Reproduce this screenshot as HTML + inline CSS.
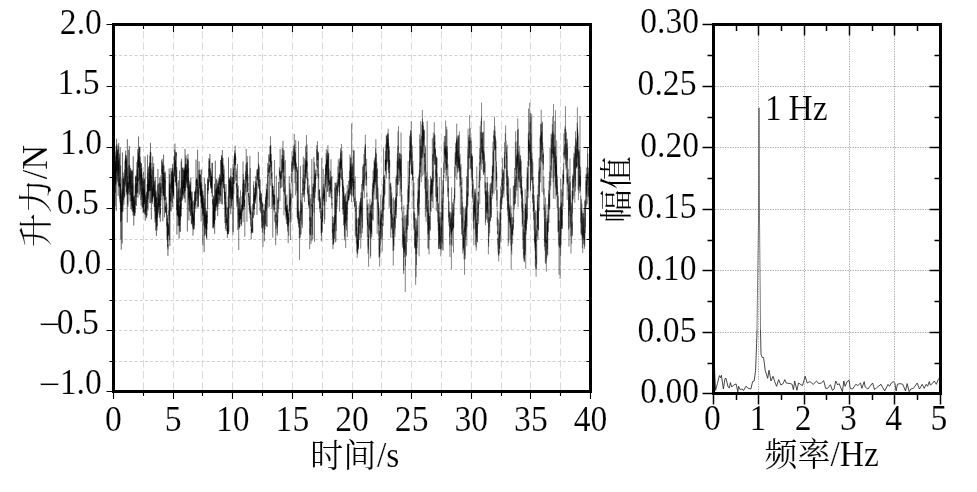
<!DOCTYPE html>
<html><head><meta charset="utf-8"><title>figure</title>
<style>
html,body{margin:0;padding:0;background:#fff;overflow:hidden}
svg{display:block;will-change:transform}
text{font-family:"Liberation Serif","Noto Serif CJK SC",serif;fill:#000;stroke:#fff;stroke-width:0.15px}
</style></head>
<body>
<svg width="977" height="492" viewBox="0 0 977 492">
<rect width="977" height="492" fill="#fff"/>
<path d="M143.5 390V26M173.5 390V26M202.5 390V26M232.5 390V26M262.5 390V26M292.5 390V26M322.5 390V26M352.5 390V26M381.5 390V26M411.5 390V26M441.5 390V26M471.5 390V26M501.5 390V26M530.5 390V26M560.5 390V26" stroke="#dbdbdb" stroke-width="1" stroke-dasharray="7.56 3.78" fill="none"/>
<path d="M113.9 55.5H589M113.9 86.5H589M113.9 116.5H589M113.9 147.5H589M113.9 177.5H589M113.9 208.5H589M113.9 239.5H589M113.9 269.5H589M113.9 300.5H589M113.9 330.5H589M113.9 361.5H589" stroke="#d0d0d0" stroke-width="1" stroke-dasharray="3 2.16" fill="none"/>
<path d="M758.5 26V392M804.5 26V392M849.5 26V392M894.5 26V392M715 332.5H939M715 270.5H939M715 209.5H939M715 147.5H939M715 86.5H939" stroke="#a8a8a8" stroke-width="1" stroke-dasharray="1.25 1.25" fill="none"/>
<polyline points="113.50,182.7 113.57,205.8 113.65,160.2 113.72,163.7 113.80,170.0 113.87,185.3 113.95,195.3 114.02,166.6 114.10,178.9 114.17,174.0 114.25,189.4 114.32,167.6 114.39,190.2 114.47,179.1 114.54,201.3 114.62,188.1 114.69,173.9 114.77,185.3 114.84,185.0 114.92,169.6 114.99,180.8 115.07,151.3 115.14,206.5 115.21,164.3 115.29,164.5 115.36,192.8 115.44,188.6 115.51,161.0 115.59,183.4 115.66,177.0 115.74,161.0 115.81,171.1 115.89,156.1 115.96,184.7 116.03,160.6 116.11,146.2 116.18,158.8 116.26,210.9 116.33,154.1 116.41,161.2 116.48,173.0 116.56,145.4 116.63,138.7 116.70,146.2 116.78,170.8 116.85,144.4 116.93,165.0 117.00,179.6 117.08,162.2 117.15,159.1 117.23,156.2 117.30,149.5 117.38,182.0 117.45,155.3 117.52,151.8 117.60,166.7 117.67,171.1 117.75,171.0 117.82,150.3 117.90,149.7 117.97,169.5 118.05,176.1 118.12,145.7 118.20,195.9 118.27,160.4 118.34,173.1 118.42,185.7 118.49,163.8 118.57,169.7 118.64,147.7 118.72,143.0 118.79,173.9 118.87,160.6 118.94,161.6 119.02,187.2 119.09,186.5 119.16,157.5 119.24,181.9 119.31,178.4 119.39,185.6 119.46,182.6 119.54,186.9 119.61,171.2 119.69,153.8 119.76,186.0 119.84,198.8 119.91,182.7 119.98,202.2 120.06,193.4 120.13,172.4 120.21,147.5 120.28,185.8 120.36,204.7 120.43,184.2 120.51,222.1 120.58,205.1 120.66,165.5 120.73,190.9 120.80,231.9 120.88,239.3 120.95,193.2 121.03,204.9 121.10,212.1 121.18,200.6 121.25,249.7 121.33,228.6 121.40,195.9 121.47,212.9 121.55,216.7 121.62,220.2 121.70,200.8 121.77,212.9 121.85,189.7 121.92,205.4 122.00,178.6 122.07,205.7 122.15,208.2 122.22,243.4 122.29,211.9 122.37,189.3 122.44,152.4 122.52,210.9 122.59,207.5 122.67,190.4 122.74,188.2 122.82,201.4 122.89,191.8 122.97,211.7 123.04,199.4 123.11,181.5 123.19,172.6 123.26,193.9 123.34,194.8 123.41,186.2 123.49,178.2 123.56,185.3 123.64,199.7 123.71,186.2 123.79,178.6 123.86,198.0 123.93,204.8 124.01,182.4 124.08,183.5 124.16,175.8 124.23,185.7 124.31,193.9 124.38,196.0 124.46,197.6 124.53,196.1 124.61,191.0 124.68,189.4 124.75,169.7 124.83,196.4 124.90,181.4 124.98,186.8 125.05,161.2 125.13,174.6 125.20,181.1 125.28,158.4 125.35,173.8 125.42,184.7 125.50,154.8 125.57,163.6 125.65,150.6 125.72,156.9 125.80,160.8 125.87,167.9 125.95,181.8 126.02,160.4 126.10,167.8 126.17,160.6 126.24,168.8 126.32,177.2 126.39,192.1 126.47,155.5 126.54,156.0 126.62,175.5 126.69,168.0 126.77,158.5 126.84,195.0 126.92,182.0 126.99,192.8 127.06,167.6 127.14,180.0 127.21,189.9 127.29,222.5 127.36,139.2 127.44,166.5 127.51,192.1 127.59,194.2 127.66,176.0 127.74,204.2 127.81,189.1 127.88,182.7 127.96,206.8 128.03,198.5 128.11,183.1 128.18,188.5 128.26,189.1 128.33,182.9 128.41,181.6 128.48,193.9 128.56,189.7 128.63,171.4 128.70,166.7 128.78,149.8 128.85,188.3 128.93,165.4 129.00,169.3 129.08,179.3 129.15,172.8 129.23,169.1 129.30,146.0 129.38,192.0 129.45,173.3 129.52,182.5 129.60,183.9 129.67,168.8 129.75,165.2 129.82,195.1 129.90,187.1 129.97,179.7 130.05,201.3 130.12,175.6 130.19,187.2 130.27,184.0 130.34,184.3 130.42,168.1 130.49,189.5 130.57,194.8 130.64,171.2 130.72,197.7 130.79,198.4 130.87,208.7 130.94,169.6 131.01,187.3 131.09,187.3 131.16,189.2 131.24,193.8 131.31,200.9 131.39,200.4 131.46,185.9 131.54,188.9 131.61,170.9 131.69,205.9 131.76,193.9 131.83,210.1 131.91,171.1 131.98,200.8 132.06,177.4 132.13,169.7 132.21,188.0 132.28,171.2 132.36,211.7 132.43,192.4 132.51,208.0 132.58,186.5 132.65,191.1 132.73,201.4 132.80,183.1 132.88,188.0 132.95,202.9 133.03,209.8 133.10,215.5 133.18,205.3 133.25,156.3 133.33,211.4 133.40,199.6 133.47,211.7 133.55,197.2 133.62,202.3 133.70,213.5 133.77,225.6 133.85,215.4 133.92,196.3 134.00,213.1 134.07,197.0 134.15,215.7 134.22,213.6 134.29,204.4 134.37,204.8 134.44,214.1 134.52,214.8 134.59,201.8 134.67,210.5 134.74,195.0 134.82,203.1 134.89,216.1 134.97,199.4 135.04,203.0 135.11,213.1 135.19,184.7 135.26,197.4 135.34,184.3 135.41,176.9 135.49,186.6 135.56,205.0 135.64,194.9 135.71,175.5 135.78,188.3 135.86,194.0 135.93,186.5 136.01,178.2 136.08,180.7 136.16,176.1 136.23,192.6 136.31,186.0 136.38,185.5 136.46,183.1 136.53,206.0 136.60,184.7 136.68,197.1 136.75,165.8 136.83,163.8 136.90,162.1 136.98,171.8 137.05,186.3 137.13,169.7 137.20,185.0 137.28,173.4 137.35,190.4 137.42,193.1 137.50,174.7 137.57,159.7 137.65,179.8 137.72,148.9 137.80,155.7 137.87,192.6 137.95,178.3 138.02,197.7 138.10,177.6 138.17,181.4 138.24,175.3 138.32,152.9 138.39,162.3 138.47,166.5 138.54,136.5 138.62,167.7 138.69,167.8 138.77,156.1 138.84,167.4 138.92,160.9 138.99,180.5 139.06,155.9 139.14,151.5 139.21,161.2 139.29,178.5 139.36,146.7 139.44,165.1 139.51,194.6 139.59,163.1 139.66,147.5 139.74,152.3 139.81,146.8 139.88,147.7 139.96,159.0 140.03,184.4 140.11,175.4 140.18,159.8 140.26,156.8 140.33,176.8 140.41,173.1 140.48,161.9 140.55,189.7 140.63,191.2 140.70,173.1 140.78,168.9 140.85,178.4 140.93,200.0 141.00,175.0 141.08,205.5 141.15,163.3 141.23,179.5 141.30,176.2 141.37,172.7 141.45,186.4 141.52,163.2 141.60,167.7 141.67,177.8 141.75,167.9 141.82,197.3 141.90,174.0 141.97,182.1 142.05,207.6 142.12,187.7 142.19,193.6 142.27,194.6 142.34,188.2 142.42,177.9 142.49,193.9 142.57,189.3 142.64,207.5 142.72,190.2 142.79,178.7 142.87,182.7 142.94,181.6 143.01,197.8 143.09,213.3 143.16,193.0 143.24,207.0 143.31,205.8 143.39,181.5 143.46,212.1 143.54,171.9 143.61,212.0 143.69,187.1 143.76,205.0 143.83,190.1 143.91,204.0 143.98,192.3 144.06,195.2 144.13,199.3 144.21,189.5 144.28,179.5 144.36,204.1 144.43,189.0 144.50,199.3 144.58,201.9 144.65,178.5 144.73,194.1 144.80,212.9 144.88,209.1 144.95,214.4 145.03,211.0 145.10,156.4 145.18,206.5 145.25,220.7 145.32,197.4 145.40,214.8 145.47,207.6 145.55,194.6 145.62,209.7 145.70,211.1 145.77,207.7 145.85,208.3 145.92,208.1 146.00,208.3 146.07,205.3 146.14,214.3 146.22,217.0 146.29,210.3 146.37,209.6 146.44,191.8 146.52,204.3 146.59,200.7 146.67,218.4 146.74,212.9 146.82,196.2 146.89,215.7 146.96,193.4 147.04,201.9 147.11,201.9 147.19,184.2 147.26,197.3 147.34,197.9 147.41,194.6 147.49,185.3 147.56,154.7 147.64,207.8 147.71,184.1 147.78,186.3 147.86,172.9 147.93,187.4 148.01,210.6 148.08,168.8 148.16,195.7 148.23,184.5 148.31,199.2 148.38,196.5 148.46,190.2 148.53,166.5 148.60,176.0 148.68,192.1 148.75,180.2 148.83,189.9 148.90,184.5 148.98,183.7 149.05,178.2 149.13,191.2 149.20,187.1 149.28,181.0 149.35,181.9 149.42,191.1 149.50,162.8 149.57,186.3 149.65,172.3 149.72,177.9 149.80,166.1 149.87,203.0 149.95,155.9 150.02,180.2 150.09,190.9 150.17,175.5 150.24,151.7 150.32,170.6 150.39,203.1 150.47,142.8 150.54,160.8 150.62,190.8 150.69,179.7 150.77,178.9 150.84,152.4 150.91,179.8 150.99,162.8 151.06,185.4 151.14,187.6 151.21,168.6 151.29,173.7 151.36,219.5 151.44,175.1 151.51,175.8 151.59,190.3 151.66,179.8 151.73,181.9 151.81,190.8 151.88,192.5 151.96,201.7 152.03,190.1 152.11,202.0 152.18,188.1 152.26,204.0 152.33,186.7 152.41,188.2 152.48,198.2 152.55,177.1 152.63,164.7 152.70,156.5 152.78,199.4 152.85,170.1 152.93,181.0 153.00,183.5 153.08,196.0 153.15,182.4 153.23,167.0 153.30,176.1 153.37,191.5 153.45,197.3 153.52,187.1 153.60,176.7 153.67,163.3 153.75,195.8 153.82,185.3 153.90,190.5 153.97,195.7 154.05,184.5 154.12,184.2 154.19,206.9 154.27,204.1 154.34,181.3 154.42,188.9 154.49,190.8 154.57,202.8 154.64,206.8 154.72,189.1 154.79,210.5 154.86,211.5 154.94,199.7 155.01,180.4 155.09,222.7 155.16,177.1 155.24,192.2 155.31,219.0 155.39,199.9 155.46,201.6 155.54,193.9 155.61,194.1 155.68,230.7 155.76,217.1 155.83,192.2 155.91,203.0 155.98,200.6 156.06,199.2 156.13,190.6 156.21,221.1 156.28,197.4 156.36,228.3 156.43,236.1 156.50,197.3 156.58,227.3 156.65,204.6 156.73,216.3 156.80,216.7 156.88,213.1 156.95,224.8 157.03,230.4 157.10,205.6 157.18,202.9 157.25,217.2 157.32,225.9 157.40,184.7 157.47,196.8 157.55,203.8 157.62,217.8 157.70,212.1 157.77,202.4 157.85,214.4 157.92,168.9 158.00,201.3 158.07,198.0 158.14,212.7 158.22,211.1 158.29,209.4 158.37,197.7 158.44,206.5 158.52,206.7 158.59,193.3 158.67,197.1 158.74,183.5 158.81,201.2 158.89,209.8 158.96,199.1 159.04,183.4 159.11,204.9 159.19,198.6 159.26,207.4 159.34,195.1 159.41,196.9 159.49,217.8 159.56,202.5 159.63,190.4 159.71,177.4 159.78,191.3 159.86,192.4 159.93,205.4 160.01,206.1 160.08,182.8 160.16,215.0 160.23,204.1 160.31,221.8 160.38,210.3 160.45,208.5 160.53,212.9 160.60,186.9 160.68,205.5 160.75,200.1 160.83,197.2 160.90,200.2 160.98,175.2 161.05,193.1 161.13,183.4 161.20,196.8 161.27,185.7 161.35,181.8 161.42,179.4 161.50,180.3 161.57,170.8 161.65,160.4 161.72,170.6 161.80,171.4 161.87,171.2 161.95,169.4 162.02,174.5 162.09,160.1 162.17,158.8 162.24,174.0 162.32,168.9 162.39,166.0 162.47,168.0 162.54,179.4 162.62,188.9 162.69,162.1 162.77,170.9 162.84,221.3 162.91,174.9 162.99,164.4 163.06,193.1 163.14,177.3 163.21,195.9 163.29,172.7 163.36,193.6 163.44,195.4 163.51,189.8 163.59,154.6 163.66,189.2 163.73,196.1 163.81,178.1 163.88,178.3 163.96,165.6 164.03,196.1 164.11,199.5 164.18,190.2 164.26,179.3 164.33,179.9 164.40,172.8 164.48,217.3 164.55,193.9 164.63,187.5 164.70,178.3 164.78,183.1 164.85,193.5 164.93,200.9 165.00,172.9 165.08,183.2 165.15,171.5 165.22,200.1 165.30,180.5 165.37,211.3 165.45,205.8 165.52,208.5 165.60,207.6 165.67,213.1 165.75,210.9 165.82,207.0 165.90,212.3 165.97,202.0 166.04,212.1 166.12,211.1 166.19,196.9 166.27,206.7 166.34,212.5 166.42,215.2 166.49,215.0 166.57,211.0 166.64,226.2 166.72,207.1 166.79,203.7 166.86,209.1 166.94,227.1 167.01,239.5 167.09,228.8 167.16,222.5 167.24,218.2 167.31,229.9 167.39,236.3 167.46,215.1 167.54,246.7 167.61,222.1 167.68,224.6 167.76,242.5 167.83,232.0 167.91,255.8 167.98,243.9 168.06,249.2 168.13,240.7 168.21,221.8 168.28,232.7 168.36,224.1 168.43,235.9 168.50,226.2 168.58,227.1 168.65,234.8 168.73,234.0 168.80,210.5 168.88,210.4 168.95,221.1 169.03,211.1 169.10,202.0 169.17,168.5 169.25,215.9 169.32,193.1 169.40,183.9 169.47,204.5 169.55,190.1 169.62,240.0 169.70,174.2 169.77,205.4 169.85,246.1 169.92,188.7 169.99,182.6 170.07,192.1 170.14,191.5 170.22,203.1 170.29,209.3 170.37,210.8 170.44,199.5 170.52,193.7 170.59,201.4 170.67,194.6 170.74,184.9 170.81,189.3 170.89,168.1 170.96,168.4 171.04,201.0 171.11,193.9 171.19,200.4 171.26,211.4 171.34,179.4 171.41,194.1 171.49,193.8 171.56,188.6 171.63,173.6 171.71,184.8 171.78,188.9 171.86,171.3 171.93,175.7 172.01,171.0 172.08,171.0 172.16,203.0 172.23,176.7 172.31,187.5 172.38,170.8 172.45,164.0 172.53,192.1 172.60,168.0 172.68,207.2 172.75,169.8 172.83,179.7 172.90,190.6 172.98,193.1 173.05,184.7 173.12,181.6 173.20,196.6 173.27,174.6 173.35,193.8 173.42,178.8 173.50,177.8 173.57,195.7 173.65,172.6 173.72,187.6 173.80,199.2 173.87,179.4 173.94,174.9 174.02,162.9 174.09,176.6 174.17,156.5 174.24,156.6 174.32,159.9 174.39,157.5 174.47,167.2 174.54,176.3 174.62,156.8 174.69,149.7 174.76,167.7 174.84,172.4 174.91,143.6 174.99,162.8 175.06,165.9 175.14,182.4 175.21,167.9 175.29,161.3 175.36,169.4 175.44,159.9 175.51,159.8 175.58,181.9 175.66,173.5 175.73,156.1 175.81,156.8 175.88,151.8 175.96,185.6 176.03,167.3 176.11,152.2 176.18,156.2 176.26,152.9 176.33,181.1 176.40,177.4 176.48,186.5 176.55,170.2 176.63,210.3 176.70,172.1 176.78,167.0 176.85,185.1 176.93,234.5 177.00,202.7 177.08,182.7 177.15,215.4 177.22,205.9 177.30,206.6 177.37,198.4 177.45,206.1 177.52,204.6 177.60,215.7 177.67,212.0 177.75,213.9 177.82,205.5 177.90,214.8 177.97,190.9 178.04,226.0 178.12,200.7 178.19,216.7 178.27,188.4 178.34,211.7 178.42,194.3 178.49,180.4 178.57,218.1 178.64,211.8 178.71,216.7 178.79,210.5 178.86,225.2 178.94,214.1 179.01,214.7 179.09,238.7 179.16,213.8 179.24,226.1 179.31,197.6 179.39,202.1 179.46,170.6 179.53,230.3 179.61,231.6 179.68,207.4 179.76,225.4 179.83,205.1 179.91,216.5 179.98,212.6 180.06,206.5 180.13,208.2 180.21,189.9 180.28,201.6 180.35,220.2 180.43,196.8 180.50,231.9 180.58,203.8 180.65,216.0 180.73,210.6 180.80,187.9 180.88,205.0 180.95,204.2 181.03,208.7 181.10,197.3 181.17,161.4 181.25,216.5 181.32,200.9 181.40,181.1 181.47,201.1 181.55,187.5 181.62,158.6 181.70,182.3 181.77,186.0 181.85,187.8 181.92,189.6 181.99,186.3 182.07,179.1 182.14,168.3 182.22,171.3 182.29,194.1 182.37,188.9 182.44,167.5 182.52,200.4 182.59,187.1 182.67,186.0 182.74,193.8 182.81,192.5 182.89,179.0 182.96,198.5 183.04,190.9 183.11,196.2 183.19,180.1 183.26,194.5 183.34,169.9 183.41,187.6 183.48,182.5 183.56,183.1 183.63,185.9 183.71,188.7 183.78,167.7 183.86,175.5 183.93,182.6 184.01,170.2 184.08,187.6 184.16,175.1 184.23,181.8 184.30,191.4 184.38,167.6 184.45,198.5 184.53,170.7 184.60,192.8 184.68,175.9 184.75,170.1 184.83,177.6 184.90,188.3 184.98,182.9 185.05,148.9 185.12,190.5 185.20,202.6 185.27,175.9 185.35,164.2 185.42,190.9 185.50,173.2 185.57,166.4 185.65,169.4 185.72,179.5 185.80,158.1 185.87,180.4 185.94,161.8 186.02,155.3 186.09,187.5 186.17,165.1 186.24,164.6 186.32,165.7 186.39,175.6 186.47,171.4 186.54,182.2 186.62,167.6 186.69,163.8 186.76,184.6 186.84,178.2 186.91,173.9 186.99,169.4 187.06,168.9 187.14,173.1 187.21,169.4 187.29,183.3 187.36,231.5 187.44,166.3 187.51,159.5 187.58,188.2 187.66,182.0 187.73,173.9 187.81,158.5 187.88,172.9 187.96,153.9 188.03,182.0 188.11,178.5 188.18,179.5 188.25,188.6 188.33,160.6 188.40,180.4 188.48,177.9 188.55,197.9 188.63,168.1 188.70,200.2 188.78,187.1 188.85,220.5 188.93,215.5 189.00,186.2 189.07,204.8 189.15,192.0 189.22,210.7 189.30,180.9 189.37,190.6 189.45,198.5 189.52,193.2 189.60,194.4 189.67,184.2 189.75,195.9 189.82,212.0 189.89,200.3 189.97,185.4 190.04,192.0 190.12,201.1 190.19,190.8 190.27,195.0 190.34,189.9 190.42,210.6 190.49,215.9 190.57,182.2 190.64,197.6 190.71,189.4 190.79,177.6 190.86,199.9 190.94,193.8 191.01,211.9 191.09,214.5 191.16,203.8 191.24,216.0 191.31,223.5 191.39,191.7 191.46,209.5 191.53,196.8 191.61,207.6 191.68,208.6 191.76,198.0 191.83,205.4 191.91,224.6 191.98,202.5 192.06,224.0 192.13,213.4 192.21,191.7 192.28,215.9 192.35,201.0 192.43,220.4 192.50,211.7 192.58,217.5 192.65,214.3 192.73,226.6 192.80,227.4 192.88,215.8 192.95,228.3 193.02,235.6 193.10,213.4 193.17,225.2 193.25,227.7 193.32,229.5 193.40,217.5 193.47,222.1 193.55,217.0 193.62,220.0 193.70,200.4 193.77,221.6 193.84,229.3 193.92,215.3 193.99,215.7 194.07,212.8 194.14,229.1 194.22,202.3 194.29,213.6 194.37,210.8 194.44,225.5 194.52,202.9 194.59,208.4 194.66,191.4 194.74,206.3 194.81,212.2 194.89,197.7 194.96,205.9 195.04,191.9 195.11,204.5 195.19,197.1 195.26,194.0 195.34,191.2 195.41,202.2 195.48,196.8 195.56,189.2 195.63,193.7 195.71,186.6 195.78,190.4 195.86,208.8 195.93,190.5 196.01,159.6 196.08,185.5 196.16,183.0 196.23,180.2 196.30,193.1 196.38,201.0 196.45,180.9 196.53,178.3 196.60,182.5 196.68,179.4 196.75,183.2 196.83,186.7 196.90,183.5 196.97,185.6 197.05,179.6 197.12,193.8 197.20,190.8 197.27,179.6 197.35,188.1 197.42,207.5 197.50,184.1 197.57,149.7 197.65,159.7 197.72,180.5 197.79,181.4 197.87,194.1 197.94,198.7 198.02,190.5 198.09,189.4 198.17,206.2 198.24,187.1 198.32,182.2 198.39,182.7 198.47,197.4 198.54,207.3 198.61,187.1 198.69,192.7 198.76,177.8 198.84,170.5 198.91,169.8 198.99,181.5 199.06,161.3 199.14,168.1 199.21,182.1 199.29,179.7 199.36,174.1 199.43,182.0 199.51,186.2 199.58,188.4 199.66,181.6 199.73,187.5 199.81,174.9 199.88,185.6 199.96,169.8 200.03,172.7 200.11,195.6 200.18,175.3 200.25,195.4 200.33,174.3 200.40,182.9 200.48,188.8 200.55,183.2 200.63,195.2 200.70,185.1 200.78,188.4 200.85,196.7 200.93,189.9 201.00,203.0 201.07,189.5 201.15,221.4 201.22,189.9 201.30,191.6 201.37,182.2 201.45,201.4 201.52,169.4 201.60,198.9 201.67,195.7 201.75,204.0 201.82,184.6 201.89,208.2 201.97,188.8 202.04,206.4 202.12,195.5 202.19,207.4 202.27,191.2 202.34,202.9 202.42,208.9 202.49,198.1 202.56,213.7 202.64,212.6 202.71,198.1 202.79,245.5 202.86,191.2 202.94,216.1 203.01,215.8 203.09,206.1 203.16,203.2 203.24,214.5 203.31,211.3 203.38,203.0 203.46,195.4 203.53,211.4 203.61,218.2 203.68,220.2 203.76,225.4 203.83,206.9 203.91,208.4 203.98,211.5 204.06,202.5 204.13,252.1 204.20,219.4 204.28,220.0 204.35,177.9 204.43,235.8 204.50,212.5 204.58,214.5 204.65,218.3 204.73,198.6 204.80,209.0 204.88,212.7 204.95,227.3 205.02,214.9 205.10,222.2 205.17,218.2 205.25,216.4 205.32,228.2 205.40,212.0 205.47,183.8 205.55,196.0 205.62,215.3 205.70,234.2 205.77,208.0 205.84,208.4 205.92,222.4 205.99,228.7 206.07,213.2 206.14,236.3 206.22,212.8 206.29,229.5 206.37,228.4 206.44,220.4 206.52,237.8 206.59,220.5 206.66,215.6 206.74,239.5 206.81,211.0 206.89,229.7 206.96,211.8 207.04,210.6 207.11,217.0 207.19,215.4 207.26,223.5 207.33,212.4 207.41,210.7 207.48,187.4 207.56,178.3 207.63,208.8 207.71,187.9 207.78,188.2 207.86,194.0 207.93,179.4 208.01,180.3 208.08,190.5 208.15,186.6 208.23,181.5 208.30,190.3 208.38,179.2 208.45,180.5 208.53,184.7 208.60,185.2 208.68,174.4 208.75,168.6 208.83,172.4 208.90,181.7 208.97,158.1 209.05,171.2 209.12,166.7 209.20,160.9 209.27,177.9 209.35,170.6 209.42,173.9 209.50,175.7 209.57,164.2 209.65,159.3 209.72,182.3 209.79,163.6 209.87,154.0 209.94,168.0 210.02,168.2 210.09,171.2 210.17,169.4 210.24,168.2 210.32,172.1 210.39,175.0 210.47,175.1 210.54,170.4 210.61,185.0 210.69,176.1 210.76,179.2 210.84,187.3 210.91,171.5 210.99,189.0 211.06,181.4 211.14,185.7 211.21,173.9 211.29,188.3 211.36,178.5 211.43,176.0 211.51,193.2 211.58,176.5 211.66,187.4 211.73,184.1 211.81,184.1 211.88,177.6 211.96,179.7 212.03,162.9 212.10,187.6 212.18,194.7 212.25,196.7 212.33,188.7 212.40,163.0 212.48,194.9 212.55,204.4 212.63,199.0 212.70,200.7 212.78,204.1 212.85,211.8 212.92,228.0 213.00,212.2 213.07,199.8 213.15,207.7 213.22,228.7 213.30,211.0 213.37,227.1 213.45,195.6 213.52,211.1 213.60,223.2 213.67,197.2 213.74,220.6 213.82,203.0 213.89,214.7 213.97,223.9 214.04,209.8 214.12,226.6 214.19,204.4 214.27,214.1 214.34,223.7 214.42,215.1 214.49,200.8 214.56,183.8 214.64,233.8 214.71,198.3 214.79,207.6 214.86,211.9 214.94,209.8 215.01,210.3 215.09,195.2 215.16,204.7 215.24,220.1 215.31,160.6 215.38,195.2 215.46,210.3 215.53,203.1 215.61,206.6 215.68,197.9 215.76,189.6 215.83,195.3 215.91,201.8 215.98,203.4 216.06,189.8 216.13,197.7 216.20,178.7 216.28,204.2 216.35,191.5 216.43,198.0 216.50,205.1 216.58,188.1 216.65,198.6 216.73,207.3 216.80,202.8 216.87,179.5 216.95,210.6 217.02,189.4 217.10,195.1 217.17,202.8 217.25,189.2 217.32,185.7 217.40,194.6 217.47,195.5 217.55,183.4 217.62,185.6 217.69,216.2 217.77,200.7 217.84,197.5 217.92,198.3 217.99,206.6 218.07,186.5 218.14,192.7 218.22,192.1 218.29,181.0 218.37,203.6 218.44,191.9 218.51,188.7 218.59,194.0 218.66,190.9 218.74,183.3 218.81,189.2 218.89,178.1 218.96,194.8 219.04,187.0 219.11,200.2 219.19,191.1 219.26,194.5 219.33,177.9 219.41,183.0 219.48,185.0 219.56,174.3 219.63,177.7 219.71,183.7 219.78,203.9 219.86,201.4 219.93,190.2 220.01,192.3 220.08,194.4 220.15,194.8 220.23,201.6 220.30,175.4 220.38,195.8 220.45,191.0 220.53,179.7 220.60,196.0 220.68,173.8 220.75,160.1 220.82,180.2 220.90,184.6 220.97,177.9 221.05,187.4 221.12,159.8 221.20,169.3 221.27,184.1 221.35,175.4 221.42,162.9 221.50,155.1 221.57,177.3 221.64,179.1 221.72,203.9 221.79,156.4 221.87,166.9 221.94,158.2 222.02,170.1 222.09,172.9 222.17,175.5 222.24,163.3 222.32,204.4 222.39,150.0 222.46,165.9 222.54,181.9 222.61,178.8 222.69,163.2 222.76,168.3 222.84,181.1 222.91,167.6 222.99,157.9 223.06,184.9 223.14,174.1 223.21,182.1 223.28,173.9 223.36,173.8 223.43,177.0 223.51,180.3 223.58,187.9 223.66,187.0 223.73,185.2 223.81,165.4 223.88,184.3 223.96,188.5 224.03,169.5 224.10,173.0 224.18,192.3 224.25,192.7 224.33,184.0 224.40,187.8 224.48,198.8 224.55,191.6 224.63,195.1 224.70,187.3 224.78,204.4 224.85,191.9 224.92,197.0 225.00,223.1 225.07,195.1 225.15,197.7 225.22,216.7 225.30,191.8 225.37,217.7 225.45,228.9 225.52,217.2 225.59,205.1 225.67,207.2 225.74,213.2 225.82,202.0 225.89,210.0 225.97,184.1 226.04,191.2 226.12,212.2 226.19,231.0 226.27,217.6 226.34,222.8 226.41,213.9 226.49,214.3 226.56,225.3 226.64,225.4 226.71,222.5 226.79,222.0 226.86,207.5 226.94,212.5 227.01,221.3 227.09,223.1 227.16,218.4 227.23,231.4 227.31,228.3 227.38,237.8 227.46,207.5 227.53,227.5 227.61,233.8 227.68,229.7 227.76,221.2 227.83,219.9 227.91,233.4 227.98,225.6 228.05,234.1 228.13,229.1 228.20,196.5 228.28,219.2 228.35,234.2 228.43,221.6 228.50,157.4 228.58,200.8 228.65,218.6 228.73,206.6 228.80,213.2 228.87,231.7 228.95,196.0 229.02,179.1 229.10,184.6 229.17,195.6 229.25,198.1 229.32,192.8 229.40,185.6 229.47,205.0 229.55,207.9 229.62,177.9 229.69,186.6 229.77,179.8 229.84,190.4 229.92,180.2 229.99,196.4 230.07,187.1 230.14,178.1 230.22,181.7 230.29,192.9 230.37,181.5 230.44,193.4 230.51,199.0 230.59,183.1 230.66,175.9 230.74,180.1 230.81,214.3 230.89,168.3 230.96,182.2 231.04,191.8 231.11,208.6 231.18,181.6 231.26,183.5 231.33,187.5 231.41,206.1 231.48,205.0 231.56,185.8 231.63,176.8 231.71,190.8 231.78,196.8 231.86,186.3 231.93,199.1 232.00,197.1 232.08,201.3 232.15,188.6 232.23,197.2 232.30,185.9 232.38,187.2 232.45,198.6 232.53,176.8 232.60,199.4 232.68,186.0 232.75,180.1" fill="none" stroke="#000" stroke-width="0.34" stroke-linejoin="miter" stroke-miterlimit="3"/>
<polyline points="232.75,180.1 232.82,177.6 232.90,235.2 232.97,163.9 233.05,175.4 233.12,172.9 233.20,232.2 233.27,187.9 233.35,182.4 233.42,184.2 233.50,169.1 233.57,183.9 233.64,167.5 233.72,171.3 233.79,185.6 233.87,194.3 233.94,174.3 234.02,168.0 234.09,159.0 234.17,166.3 234.24,155.8 234.32,173.6 234.39,183.5 234.46,160.7 234.54,153.1 234.61,163.5 234.69,162.5 234.76,150.4 234.84,158.9 234.91,154.7 234.99,157.6 235.06,170.2 235.14,145.7 235.21,152.4 235.28,152.5 235.36,165.1 235.43,153.1 235.51,164.8 235.58,158.5 235.66,155.8 235.73,160.1 235.81,158.3 235.88,180.7 235.95,171.1 236.03,176.6 236.10,168.6 236.18,181.4 236.25,175.1 236.33,188.4 236.40,182.5 236.48,186.1 236.55,185.8 236.63,183.5 236.70,189.4 236.77,191.1 236.85,206.8 236.92,183.4 237.00,198.0 237.07,196.1 237.15,201.6 237.22,188.5 237.30,204.2 237.37,194.3 237.45,190.2 237.52,164.1 237.59,192.3 237.67,188.9 237.74,230.0 237.82,194.8 237.89,196.8 237.97,200.8 238.04,202.4 238.12,208.2 238.19,215.2 238.27,204.2 238.34,185.5 238.41,222.6 238.49,208.7 238.56,211.1 238.64,210.7 238.71,250.0 238.79,210.0 238.86,210.7 238.94,199.0 239.01,229.2 239.09,212.4 239.16,218.2 239.23,226.9 239.31,212.6 239.38,227.9 239.46,197.3 239.53,203.9 239.61,220.2 239.68,209.3 239.76,212.9 239.83,202.0 239.91,227.0 239.98,212.6 240.05,214.5 240.13,212.6 240.20,218.3 240.28,211.1 240.35,213.5 240.43,215.1 240.50,190.3 240.58,219.3 240.65,213.3 240.72,219.0 240.80,208.7 240.87,224.0 240.95,213.9 241.02,209.9 241.10,219.1 241.17,211.9 241.25,213.9 241.32,224.5 241.40,212.9 241.47,204.9 241.54,223.9 241.62,226.0 241.69,210.4 241.77,215.7 241.84,196.1 241.92,209.7 241.99,208.0 242.07,212.1 242.14,204.8 242.22,209.9 242.29,211.6 242.36,204.5 242.44,209.0 242.51,192.3 242.59,209.3 242.66,200.1 242.74,203.3 242.81,207.1 242.89,183.6 242.96,209.9 243.04,161.4 243.11,222.2 243.18,190.6 243.26,174.0 243.33,205.3 243.41,199.4 243.48,179.6 243.56,187.7 243.63,200.3 243.71,189.4 243.78,209.8 243.86,189.1 243.93,179.8 244.00,194.1 244.08,191.1 244.15,184.2 244.23,179.3 244.30,206.5 244.38,192.8 244.45,207.0 244.53,200.2 244.60,203.6 244.68,199.8 244.75,231.7 244.82,236.8 244.90,199.0 244.97,189.8 245.05,183.8 245.12,195.5 245.20,191.9 245.27,184.9 245.35,183.2 245.42,188.1 245.49,186.4 245.57,171.4 245.64,185.8 245.72,185.6 245.79,192.4 245.87,176.5 245.94,180.3 246.02,164.9 246.09,178.6 246.17,169.4 246.24,148.8 246.31,162.5 246.39,183.3 246.46,162.7 246.54,173.4 246.61,174.9 246.69,179.0 246.76,175.3 246.84,174.7 246.91,221.8 246.99,168.3 247.06,171.4 247.13,191.9 247.21,172.5 247.28,156.2 247.36,164.2 247.43,176.3 247.51,162.3 247.58,191.8 247.66,177.2 247.73,181.0 247.81,179.9 247.88,174.3 247.95,176.7 248.03,187.3 248.10,184.5 248.18,182.8 248.25,189.6 248.33,188.6 248.40,195.1 248.48,196.8 248.55,192.9 248.63,201.9 248.70,193.2 248.77,198.8 248.85,205.0 248.92,204.0 249.00,204.1 249.07,202.9 249.15,202.0 249.22,207.8 249.30,210.9 249.37,196.1 249.44,200.9 249.52,207.5 249.59,202.8 249.67,208.1 249.74,213.2 249.82,211.8 249.89,155.8 249.97,192.4 250.04,207.7 250.12,218.2 250.19,212.1 250.26,168.0 250.34,214.5 250.41,210.7 250.49,210.1 250.56,215.0 250.64,209.4 250.71,219.5 250.79,218.6 250.86,227.3 250.94,206.2 251.01,223.2 251.08,225.5 251.16,217.8 251.23,239.4 251.31,228.4 251.38,233.7 251.46,228.3 251.53,231.0 251.61,224.7 251.68,229.2 251.76,232.2 251.83,229.9 251.90,229.7 251.98,230.6 252.05,220.3 252.13,211.3 252.20,224.4 252.28,232.8 252.35,212.6 252.43,231.9 252.50,221.3 252.58,221.3 252.65,224.7 252.72,225.3 252.80,233.0 252.87,203.7 252.95,218.0 253.02,216.3 253.10,207.3 253.17,209.6 253.25,204.1 253.32,218.1 253.40,215.9 253.47,185.2 253.54,206.6 253.62,206.9 253.69,202.8 253.77,181.3 253.84,209.7 253.92,199.2 253.99,200.6 254.07,195.4 254.14,198.4 254.22,202.8 254.29,204.9 254.36,215.2 254.44,192.6 254.51,208.7 254.59,201.6 254.66,187.9 254.74,201.5 254.81,194.5 254.89,202.4 254.96,193.4 255.03,197.4 255.11,200.4 255.18,187.7 255.26,197.5 255.33,203.7 255.41,196.2 255.48,181.3 255.56,199.4 255.63,186.1 255.71,185.4 255.78,175.8 255.85,193.0 255.93,183.8 256.00,198.2 256.08,189.3 256.15,185.2 256.23,182.6 256.30,184.9 256.38,184.3 256.45,195.4 256.53,184.9 256.60,179.2 256.67,176.8 256.75,175.4 256.82,172.3 256.90,170.3 256.97,214.9 257.05,180.0 257.12,177.2 257.20,179.9 257.27,168.9 257.35,170.9 257.42,176.7 257.49,175.6 257.57,168.8 257.64,179.7 257.72,180.2 257.79,173.1 257.87,176.7 257.94,171.4 258.02,178.9 258.09,177.0 258.17,185.8 258.24,188.6 258.31,182.8 258.39,151.8 258.46,174.4 258.54,163.2 258.61,184.2 258.69,186.5 258.76,178.6 258.84,186.1 258.91,165.0 258.99,172.6 259.06,182.3 259.13,167.1 259.21,184.7 259.28,186.9 259.36,187.5 259.43,189.5 259.51,183.9 259.58,201.8 259.66,194.3 259.73,179.4 259.80,200.0 259.88,196.3 259.95,210.7 260.03,194.6 260.10,179.5 260.18,189.5 260.25,195.9 260.33,203.8 260.40,197.9 260.48,196.0 260.55,190.7 260.62,212.8 260.70,197.0 260.77,210.5 260.85,194.5 260.92,196.1 261.00,195.7 261.07,193.4 261.15,196.8 261.22,203.5 261.30,197.9 261.37,193.3 261.44,203.5 261.52,202.1 261.59,228.3 261.67,197.1 261.74,208.5 261.82,221.8 261.89,210.5 261.97,214.1 262.04,211.4 262.12,203.0 262.19,206.9 262.26,204.0 262.34,204.5 262.41,232.8 262.49,204.6 262.56,206.6 262.64,202.4 262.71,225.8 262.79,226.5 262.86,215.6 262.94,247.1 263.01,224.4 263.08,215.5 263.16,222.2 263.23,228.4 263.31,216.6 263.38,215.4 263.46,211.9 263.53,209.8 263.61,211.1 263.68,216.6 263.75,219.2 263.83,225.2 263.90,218.1 263.98,209.6 264.05,212.1 264.13,203.9 264.20,217.6 264.28,234.3 264.35,212.1 264.43,210.9 264.50,241.3 264.57,236.4 264.65,215.4 264.72,211.5 264.80,221.9 264.87,221.2 264.95,229.6 265.02,219.9 265.10,219.9 265.17,210.2 265.25,217.7 265.32,223.0 265.39,223.9 265.47,196.8 265.54,225.6 265.62,205.7 265.69,210.5 265.77,200.2 265.84,210.3 265.92,199.6 265.99,202.9 266.07,192.9 266.14,204.1 266.21,210.3 266.29,197.9 266.36,183.6 266.44,226.5 266.51,189.2 266.59,199.2 266.66,193.3 266.74,191.1 266.81,193.9 266.89,188.7 266.96,192.4 267.03,205.7 267.11,194.3 267.18,227.0 267.26,198.9 267.33,195.4 267.41,191.5 267.48,184.8 267.56,186.1 267.63,184.6 267.71,163.0 267.78,199.3 267.85,175.0 267.93,183.1 268.00,182.4 268.08,207.9 268.15,167.7 268.23,171.4 268.30,171.0 268.38,176.4 268.45,171.2 268.52,154.6 268.60,162.7 268.67,165.6 268.75,171.3 268.82,169.6 268.90,170.2 268.97,169.4 269.05,173.0 269.12,165.0 269.20,172.7 269.27,172.4 269.34,164.7 269.42,169.0 269.49,165.9 269.57,206.9 269.64,157.6 269.72,161.2 269.79,160.8 269.87,156.4 269.94,153.9 270.02,161.9 270.09,145.9 270.16,166.7 270.24,151.6 270.31,146.7 270.39,160.8 270.46,136.4 270.54,163.7 270.61,154.2 270.69,163.4 270.76,185.8 270.84,145.1 270.91,159.7 270.98,171.2 271.06,160.5 271.13,167.3 271.21,154.1 271.28,161.0 271.36,175.1 271.43,174.5 271.51,179.0 271.58,174.1 271.66,175.4 271.73,161.0 271.80,175.4 271.88,208.9 271.95,195.9 272.03,171.8 272.10,174.3 272.18,182.8 272.25,183.9 272.33,188.0 272.40,185.7 272.48,196.6 272.55,183.5 272.62,193.5 272.70,190.2 272.77,237.6 272.85,191.6 272.92,186.0 273.00,206.7 273.07,186.0 273.15,192.3 273.22,199.4 273.30,204.6 273.37,189.6 273.44,195.1 273.52,193.8 273.59,199.2 273.67,202.8 273.74,194.2 273.82,205.0 273.89,195.2 273.97,210.1 274.04,206.4 274.11,209.8 274.19,194.9 274.26,212.4 274.34,209.7 274.41,200.5 274.49,203.8 274.56,160.0 274.64,197.1 274.71,205.0 274.79,195.1 274.86,220.9 274.93,216.8 275.01,214.8 275.08,217.8 275.16,222.7 275.23,221.1 275.31,221.6 275.38,211.8 275.46,216.1 275.53,221.1 275.61,225.8 275.68,245.2 275.75,224.0 275.83,221.3 275.90,229.0 275.98,215.6 276.05,213.8 276.13,216.9 276.20,216.1 276.28,216.6 276.35,175.5 276.43,217.2 276.50,225.4 276.57,223.9 276.65,214.3 276.72,212.4 276.80,214.0 276.87,213.7 276.95,217.4 277.02,226.5 277.10,233.4 277.17,228.1 277.25,220.2 277.32,235.6 277.39,215.4 277.47,217.9 277.54,227.1 277.62,212.1 277.69,199.4 277.77,222.1 277.84,212.9 277.92,197.4 277.99,212.8 278.06,205.1 278.14,204.1 278.21,200.4 278.29,203.3 278.36,203.3 278.44,197.7 278.51,182.1 278.59,195.1 278.66,196.8 278.74,209.1 278.81,192.0 278.88,190.9 278.96,184.5 279.03,182.5 279.11,183.2 279.18,179.3 279.26,176.5 279.33,167.4 279.41,167.9 279.48,176.3 279.56,170.1 279.63,173.5 279.70,171.9 279.78,172.7 279.85,175.0 279.93,201.1 280.00,185.6 280.08,172.1 280.15,148.9 280.23,179.0 280.30,172.0 280.38,177.1 280.45,173.9 280.52,179.9 280.60,177.0 280.67,176.4 280.75,188.3 280.82,174.2 280.90,175.8 280.97,187.9 281.05,170.8 281.12,174.1 281.20,172.3 281.27,171.0 281.34,174.5 281.42,177.4 281.49,173.3 281.57,172.6 281.64,159.2 281.72,159.1 281.79,179.1 281.87,177.0 281.94,165.5 282.02,155.0 282.09,169.8 282.16,187.1 282.24,154.4 282.31,147.9 282.39,172.2 282.46,172.9 282.54,167.3 282.61,161.0 282.69,158.7 282.76,168.9 282.84,169.4 282.91,158.8 282.98,140.8 283.06,160.4 283.13,171.9 283.21,149.6 283.28,162.2 283.36,168.6 283.43,162.5 283.51,191.8 283.58,159.1 283.65,155.6 283.73,171.5 283.80,165.9 283.88,161.1 283.95,215.4 284.03,171.0 284.10,150.4 284.18,181.8 284.25,175.9 284.33,184.9 284.40,179.6 284.47,194.8 284.55,193.0 284.62,189.6 284.70,188.6 284.77,189.9 284.85,192.4 284.92,191.0 285.00,185.4 285.07,198.1 285.15,209.7 285.22,206.8 285.29,189.5 285.37,160.0 285.44,204.4 285.52,194.0 285.59,204.0 285.67,211.8 285.74,198.3 285.82,211.2 285.89,209.2 285.97,196.1 286.04,219.8 286.11,205.7 286.19,217.3 286.26,211.0 286.34,207.7 286.41,215.2 286.49,206.0 286.56,224.1 286.64,209.8 286.71,214.1 286.79,209.8 286.86,215.9 286.93,194.6 287.01,216.2 287.08,205.4 287.16,219.4 287.23,212.4 287.31,204.6 287.38,211.5 287.46,223.8 287.53,210.9 287.61,231.4 287.68,214.2 287.75,225.9 287.83,225.7 287.90,217.4 287.98,226.7 288.05,208.9 288.13,223.9 288.20,243.2 288.28,213.9 288.35,224.9 288.42,225.6 288.50,212.6 288.57,220.4 288.65,217.9 288.72,219.5 288.80,235.8 288.87,218.3 288.95,220.7 289.02,222.9 289.10,219.7 289.17,201.4 289.24,176.1 289.32,211.9 289.39,208.7 289.47,205.9 289.54,200.5 289.62,206.2 289.69,210.7 289.77,210.0 289.84,183.2 289.92,192.1 289.99,210.9 290.06,219.0 290.14,189.2 290.21,206.3 290.29,204.3 290.36,196.9 290.44,202.8 290.51,231.5 290.59,240.0 290.66,199.2 290.74,204.1 290.81,193.6 290.88,201.0 290.96,193.5 291.03,222.1 291.11,189.4 291.18,187.9 291.26,179.6 291.33,173.1 291.41,180.3 291.48,182.5 291.56,163.9 291.63,171.8 291.70,168.8 291.78,167.5 291.85,161.2 291.93,162.9 292.00,164.1 292.08,151.1 292.15,172.1 292.23,170.0 292.30,166.6 292.38,163.9 292.45,164.9 292.52,162.6 292.60,163.7 292.67,165.8 292.75,198.4 292.82,156.5 292.90,157.2 292.97,165.3 293.05,156.3 293.12,156.2 293.19,157.5 293.27,168.5 293.34,164.0 293.42,159.8 293.49,145.9 293.57,160.5 293.64,157.0 293.72,161.3 293.79,157.2 293.87,151.8 293.94,166.1 294.01,170.3 294.09,148.5 294.16,151.9 294.24,155.4 294.31,133.9 294.39,146.7 294.46,166.2 294.54,155.1 294.61,144.3 294.69,159.2 294.76,162.8 294.83,150.0 294.91,157.8 294.98,183.2 295.06,160.9 295.13,165.2 295.21,153.9 295.28,168.3 295.36,152.0 295.43,195.4 295.51,159.2 295.58,169.4 295.65,163.1 295.73,139.9 295.80,155.9 295.88,155.8 295.95,165.4 296.03,165.3 296.10,162.5 296.18,164.6 296.25,172.2 296.33,164.2 296.40,170.3 296.47,166.6 296.55,172.3 296.62,172.6 296.70,183.1 296.77,182.9 296.85,190.2 296.92,190.9 297.00,186.7 297.07,182.1 297.14,217.2 297.22,170.5 297.29,193.3 297.37,167.0 297.44,189.6 297.52,213.8 297.59,201.6 297.67,169.8 297.74,218.9 297.82,200.6 297.89,212.8 297.96,219.4 298.04,208.8 298.11,223.4 298.19,211.7 298.26,218.3 298.34,220.2 298.41,212.3 298.49,141.2 298.56,217.1 298.64,216.9 298.71,221.8 298.78,227.0 298.86,221.7 298.93,214.5 299.01,223.7 299.08,220.0 299.16,227.8 299.23,211.1 299.31,238.4 299.38,225.0 299.46,218.0 299.53,259.8 299.60,236.7 299.68,236.2 299.75,229.8 299.83,227.0 299.90,234.7 299.98,232.9 300.05,221.7 300.13,217.8 300.20,227.0 300.28,226.8 300.35,237.7 300.42,165.9 300.50,215.5 300.57,217.7 300.65,209.5 300.72,199.9 300.80,205.7 300.87,221.0 300.95,211.1 301.02,211.9 301.10,210.3 301.17,234.3 301.24,208.4 301.32,212.0 301.39,202.1 301.47,203.5 301.54,212.6 301.62,214.4 301.69,206.5 301.77,199.2 301.84,193.1 301.92,205.4 301.99,224.6 302.06,206.0 302.14,207.0 302.21,203.5 302.29,227.9 302.36,201.9 302.44,202.1 302.51,178.7 302.59,190.4 302.66,194.7 302.73,192.4 302.81,191.5 302.88,188.2 302.96,191.0 303.03,187.6 303.11,164.6 303.18,168.3 303.26,183.6 303.33,156.7 303.41,181.1 303.48,192.0 303.55,197.3 303.63,190.9 303.70,187.4 303.78,185.1 303.85,181.4 303.93,193.0 304.00,195.2 304.08,174.1 304.15,183.2 304.23,194.3 304.30,188.8 304.37,181.6 304.45,188.0 304.52,191.1 304.60,201.9 304.67,158.3 304.75,181.4 304.82,183.5 304.90,185.9 304.97,189.6 305.05,182.6 305.12,179.0 305.19,169.5 305.27,183.5 305.34,164.6 305.42,172.7 305.49,146.3 305.57,177.2 305.64,167.4 305.72,160.5 305.79,166.9 305.87,176.4 305.94,167.8 306.01,161.1 306.09,173.1 306.16,172.4 306.24,160.2 306.31,167.2 306.39,155.4 306.46,135.2 306.54,172.5 306.61,178.9 306.69,152.2 306.76,169.0 306.83,164.3 306.91,163.8 306.98,173.0 307.06,144.4 307.13,166.0 307.21,161.6 307.28,183.6 307.36,185.6 307.43,194.0 307.50,178.4 307.58,180.4 307.65,175.7 307.73,172.4 307.80,185.8 307.88,192.4 307.95,184.5 308.03,178.7 308.10,196.0 308.18,187.5 308.25,199.0 308.32,202.2 308.40,190.0 308.47,202.1 308.55,205.2 308.62,194.7 308.70,201.6 308.77,203.6 308.85,204.0 308.92,201.1 309.00,208.5 309.07,202.3 309.14,206.2 309.22,200.5 309.29,184.9 309.37,195.6 309.44,220.8 309.52,217.0 309.59,223.9 309.67,249.1 309.74,223.9 309.82,219.2 309.89,194.1 309.96,233.5 310.04,230.5 310.11,228.2 310.19,232.9 310.26,235.2 310.34,230.2 310.41,198.7 310.49,210.9 310.56,225.5 310.64,224.7 310.71,235.3 310.78,217.9 310.86,218.4 310.93,244.2 311.01,217.0 311.08,218.2 311.16,227.1 311.23,220.4 311.31,216.7 311.38,217.0 311.46,205.8 311.53,205.1 311.60,204.1 311.68,206.5 311.75,207.1 311.83,159.0 311.90,241.2 311.98,194.2 312.05,199.9 312.13,201.4 312.20,206.2 312.27,204.5 312.35,211.6 312.42,234.8 312.50,205.0 312.57,216.2 312.65,186.9 312.72,197.4 312.80,228.9 312.87,239.2 312.95,202.1 313.02,201.7 313.09,201.3 313.17,198.0 313.24,183.5 313.32,192.0 313.39,184.1 313.47,194.8 313.54,187.4 313.62,203.2 313.69,191.2 313.77,197.3 313.84,157.1 313.91,169.7 313.99,173.3 314.06,212.8 314.14,185.9 314.21,182.4 314.29,181.0 314.36,174.8 314.44,162.1 314.51,241.9 314.59,174.2 314.66,188.2 314.73,189.5 314.81,176.5 314.88,189.2 314.96,197.7 315.03,198.0 315.11,188.1 315.18,169.4 315.26,178.2 315.33,192.4 315.41,190.8 315.48,174.8 315.55,188.0 315.63,172.8 315.70,179.5 315.78,177.5 315.85,178.7 315.93,172.8 316.00,176.1 316.08,175.8 316.15,170.2 316.23,172.3 316.30,164.1 316.37,164.4 316.45,165.8 316.52,164.3 316.60,163.7 316.67,149.0 316.75,161.3 316.82,164.5 316.90,161.9 316.97,145.1 317.04,160.3 317.12,159.4 317.19,159.6 317.27,156.0 317.34,153.7 317.42,141.2 317.49,168.1 317.57,164.7 317.64,176.5 317.72,152.7 317.79,151.2 317.86,155.4 317.94,159.9 318.01,152.3 318.09,163.4 318.16,165.3 318.24,200.2 318.31,185.1 318.39,182.7 318.46,164.6 318.54,152.7 318.61,178.6 318.68,174.7 318.76,173.7 318.83,187.0 318.91,195.7 318.98,201.9 319.06,196.9 319.13,190.3 319.21,190.5 319.28,195.2 319.36,193.4 319.43,189.9 319.50,201.3 319.58,189.2 319.65,208.8 319.73,197.2 319.80,195.9 319.88,205.6 319.95,212.5 320.03,197.5 320.10,208.2 320.18,198.9 320.25,200.2 320.32,207.1 320.40,208.7 320.47,202.3 320.55,208.0 320.62,218.8 320.70,212.1 320.77,210.5 320.85,214.3 320.92,213.3 321.00,219.4 321.07,220.5 321.14,227.9 321.22,233.0 321.29,215.7 321.37,241.4 321.44,220.3 321.52,235.4 321.59,222.8 321.67,229.4 321.74,158.0 321.81,231.6 321.89,228.0 321.96,212.9 322.04,210.3 322.11,232.8 322.19,214.1 322.26,208.1 322.34,222.1 322.41,197.1 322.49,222.1 322.56,215.9 322.63,209.6 322.71,215.9 322.78,214.2 322.86,186.1 322.93,204.7 323.01,205.7 323.08,192.9 323.16,198.9 323.23,169.0 323.31,199.2 323.38,194.2 323.45,195.8 323.53,195.1 323.60,197.8 323.68,197.1 323.75,184.0 323.83,201.5 323.90,200.4 323.98,198.7 324.05,191.6 324.13,192.4 324.20,187.8 324.27,223.9 324.35,191.6 324.42,197.2 324.50,194.4 324.57,190.3 324.65,205.4 324.72,187.9 324.80,187.9 324.87,219.6 324.95,187.7 325.02,174.4 325.09,187.7 325.17,179.3 325.24,184.2 325.32,187.3 325.39,186.9 325.47,181.6 325.54,167.6 325.62,169.7 325.69,179.4 325.76,164.9 325.84,171.6 325.91,184.4 325.99,164.0 326.06,172.5 326.14,175.9 326.21,153.1 326.29,201.8 326.36,149.1 326.44,171.0 326.51,160.0 326.58,160.0 326.66,161.6 326.73,174.8 326.81,159.5 326.88,159.6 326.96,167.0 327.03,161.9 327.11,155.3 327.18,180.0 327.26,163.3 327.33,191.9 327.40,164.7 327.48,163.6 327.55,150.5 327.63,162.8 327.70,166.5 327.78,159.1 327.85,191.4 327.93,145.2 328.00,173.7 328.08,174.5 328.15,152.7 328.22,168.3 328.30,155.6 328.37,181.2 328.45,168.4 328.52,182.6 328.60,173.4 328.67,186.6 328.75,153.0 328.82,172.5 328.90,182.7 328.97,186.7 329.04,197.0 329.12,168.7 329.19,181.5 329.27,184.7 329.34,179.8 329.42,184.6 329.49,181.0 329.57,181.1 329.64,184.9 329.72,181.2 329.79,197.2 329.86,187.6 329.94,190.6 330.01,186.7 330.09,188.1 330.16,191.2 330.24,188.4 330.31,177.9 330.39,188.8 330.46,193.6 330.53,171.0 330.61,176.0 330.68,189.0 330.76,180.2 330.83,189.1 330.91,184.4 330.98,159.3 331.06,177.4 331.13,183.1 331.21,187.2 331.28,198.6 331.35,185.0 331.43,185.5 331.50,182.6 331.58,177.1 331.65,191.8 331.73,189.6 331.80,207.9 331.88,176.0 331.95,198.0 332.03,196.9 332.10,205.0 332.17,203.3 332.25,204.7 332.32,233.2 332.40,216.8 332.47,216.2 332.55,233.2 332.62,238.6 332.70,228.8 332.77,231.6 332.85,223.1 332.92,249.1 332.99,244.0 333.07,235.5 333.14,229.1 333.22,244.7 333.29,238.7 333.37,244.3 333.44,217.1 333.52,218.9 333.59,243.5 333.67,226.2 333.74,224.2 333.81,234.7 333.89,237.4 333.96,237.0 334.04,234.4 334.11,224.2 334.19,222.5 334.26,226.4 334.34,220.5 334.41,225.4 334.49,239.0 334.56,215.3 334.63,217.2 334.71,231.6 334.78,187.5 334.86,221.8 334.93,223.8 335.01,182.6 335.08,242.4 335.16,236.3 335.23,215.0 335.31,224.0 335.38,224.7 335.45,182.9 335.53,209.9 335.60,221.7 335.68,215.0 335.75,189.5 335.83,192.2 335.90,241.6 335.98,200.7 336.05,204.0 336.12,213.1 336.20,199.5 336.27,231.1 336.35,200.2 336.42,182.5 336.50,190.4 336.57,187.8 336.65,188.8 336.72,185.2 336.80,185.4 336.87,201.9 336.94,195.4 337.02,185.6 337.09,207.2 337.17,195.0 337.24,181.7 337.32,178.7 337.39,195.0 337.47,196.0 337.54,184.3 337.62,186.0 337.69,192.7 337.76,182.0 337.84,181.7 337.91,184.8 337.99,166.5 338.06,173.6 338.14,177.3 338.21,175.1 338.29,159.3 338.36,173.6 338.44,187.5 338.51,178.8 338.58,178.9 338.66,185.2 338.73,178.4 338.81,174.3 338.88,180.6 338.96,183.8 339.03,173.1 339.11,192.1 339.18,172.4 339.26,178.4 339.33,175.7 339.40,196.0 339.48,162.7 339.55,211.7 339.63,180.8 339.70,158.2 339.78,176.3 339.85,173.4 339.93,186.8 340.00,176.7 340.07,165.3 340.15,160.7 340.22,167.8 340.30,163.2 340.37,161.0 340.45,178.2 340.52,170.1 340.60,148.2 340.67,170.7 340.75,153.8 340.82,163.1 340.89,151.7 340.97,168.6 341.04,159.3 341.12,160.8 341.19,167.7 341.27,161.0 341.34,169.6 341.42,144.0 341.49,168.4 341.57,160.2 341.64,168.2 341.71,179.9 341.79,172.7 341.86,171.5 341.94,179.0 342.01,150.6 342.09,170.6 342.16,168.2 342.24,182.4 342.31,185.3 342.39,170.4 342.46,191.5 342.53,178.1 342.61,181.7 342.68,187.8 342.76,184.3 342.83,208.9 342.91,185.7 342.98,214.4 343.06,200.2 343.13,179.5 343.21,197.7 343.28,210.3 343.35,186.1 343.43,201.5 343.50,225.3 343.58,198.2 343.65,191.5 343.73,197.6 343.80,187.9 343.88,204.6 343.95,200.1 344.03,214.7 344.10,206.4 344.17,196.4 344.25,205.9 344.32,206.9 344.40,236.4 344.47,215.6 344.55,240.3 344.62,196.1 344.70,229.2 344.77,211.1 344.85,222.5 344.92,198.7 344.99,224.1 345.07,213.5 345.14,193.2 345.22,213.5 345.29,222.9 345.37,211.1 345.44,194.6 345.52,210.1 345.59,234.3 345.66,248.1 345.74,236.0 345.81,202.1 345.89,215.3 345.96,221.0 346.04,211.3 346.11,205.4 346.19,226.3 346.26,202.6 346.34,218.0 346.41,230.4 346.48,203.6 346.56,202.0 346.63,203.7 346.71,200.9 346.78,220.1 346.86,203.9 346.93,195.2 347.01,191.4 347.08,195.3 347.16,214.3 347.23,198.2 347.30,184.8 347.38,236.9 347.45,218.2 347.53,218.9 347.60,201.0 347.68,199.2 347.75,204.5 347.83,202.9 347.90,202.5 347.98,200.2 348.05,195.3 348.12,195.4 348.20,199.3 348.27,195.9 348.35,201.2 348.42,189.8 348.50,200.0 348.57,180.9 348.65,193.7 348.72,190.5 348.80,198.3 348.87,193.7 348.94,188.2 349.02,188.3 349.09,200.2 349.17,196.0 349.24,184.6 349.32,182.4 349.39,177.9 349.47,170.8 349.54,183.2 349.62,196.7 349.69,180.2 349.76,194.3 349.84,189.1 349.91,154.6 349.99,172.9 350.06,183.3 350.14,183.3 350.21,179.2 350.29,193.3 350.36,167.3 350.43,181.9 350.51,163.5 350.58,188.8 350.66,157.4 350.73,194.8 350.81,157.9 350.88,189.7 350.96,164.7 351.03,185.5 351.11,188.9 351.18,184.2 351.25,177.4 351.33,177.7 351.40,167.1 351.48,172.9 351.55,202.0 351.63,123.4 351.70,195.6 351.78,181.9 351.85,173.2 351.93,190.2 352.00,188.8" fill="none" stroke="#000" stroke-width="0.3" stroke-linejoin="miter" stroke-miterlimit="3"/>
<polyline points="352.00,188.8 352.07,177.2 352.15,180.9 352.22,164.5 352.30,175.4 352.37,173.6 352.45,162.9 352.52,182.5 352.60,178.1 352.67,186.7 352.75,175.8 352.82,169.1 352.89,166.3 352.97,178.5 353.04,185.0 353.12,195.3 353.19,191.8 353.27,178.9 353.34,149.8 353.42,201.7 353.49,200.7 353.57,150.8 353.64,197.2 353.71,181.1 353.79,195.9 353.86,179.0 353.94,179.9 354.01,183.2 354.09,181.4 354.16,189.1 354.24,177.3 354.31,150.6 354.39,183.0 354.46,207.4 354.53,202.0 354.61,198.4 354.68,199.7 354.76,198.4 354.83,205.9 354.91,196.4 354.98,203.5 355.06,202.3 355.13,206.1 355.20,203.3 355.28,235.8 355.35,176.4 355.43,210.6 355.50,211.3 355.58,211.4 355.65,208.7 355.73,213.2 355.80,218.8 355.88,223.7 355.95,237.7 356.02,218.4 356.10,230.9 356.17,228.6 356.25,205.2 356.32,243.8 356.40,227.4 356.47,201.0 356.55,220.7 356.62,219.0 356.70,242.1 356.77,251.8 356.84,227.1 356.92,236.4 356.99,219.6 357.07,234.2 357.14,235.9 357.22,257.9 357.29,242.3 357.37,239.1 357.44,254.2 357.52,240.8 357.59,250.1 357.66,233.8 357.74,253.0 357.81,253.4 357.89,235.5 357.96,237.0 358.04,247.0 358.11,239.6 358.19,246.0 358.26,217.2 358.34,248.6 358.41,218.0 358.48,249.4 358.56,227.5 358.63,232.5 358.71,236.3 358.78,219.6 358.86,219.6 358.93,228.7 359.01,233.4 359.08,205.7 359.16,211.0 359.23,221.7 359.30,225.0 359.38,218.9 359.45,220.2 359.53,209.6 359.60,240.0 359.68,219.3 359.75,226.2 359.83,206.7 359.90,201.7 359.97,218.2 360.05,211.8 360.12,203.1 360.20,217.8 360.27,233.7 360.35,204.1 360.42,200.6 360.50,214.1 360.57,198.3 360.65,204.8 360.72,248.7 360.79,207.2 360.87,210.1 360.94,192.5 361.02,209.4 361.09,210.8 361.17,197.8 361.24,206.0 361.32,237.6 361.39,206.2 361.47,212.9 361.54,193.6 361.61,183.9 361.69,215.6 361.76,213.7 361.84,221.7 361.91,209.8 361.99,209.6 362.06,202.1 362.14,192.0 362.21,213.1 362.29,233.1 362.36,216.3 362.43,188.2 362.51,166.7 362.58,228.3 362.66,209.2 362.73,191.5 362.81,181.0 362.88,180.0 362.96,185.9 363.03,179.8 363.11,181.5 363.18,188.2 363.25,164.1 363.33,179.3 363.40,189.5 363.48,187.2 363.55,191.3 363.63,176.0 363.70,165.2 363.78,186.4 363.85,163.6 363.93,154.1 364.00,169.4 364.07,183.1 364.15,179.9 364.22,174.7 364.30,198.2 364.37,197.1 364.45,172.7 364.52,171.4 364.60,163.4 364.67,179.5 364.74,150.1 364.82,156.8 364.89,157.5 364.97,171.0 365.04,147.8 365.12,166.3 365.19,145.2 365.27,151.1 365.34,134.8 365.42,165.0 365.49,144.3 365.56,153.5 365.64,165.5 365.71,163.5 365.79,165.1 365.86,175.7 365.94,171.9 366.01,185.0 366.09,181.6 366.16,170.8 366.24,186.0 366.31,172.2 366.38,180.0 366.46,175.9 366.53,176.8 366.61,158.8 366.68,174.8 366.76,185.9 366.83,197.0 366.91,192.7 366.98,219.6 367.06,206.1 367.13,199.6 367.20,210.0 367.28,208.1 367.35,237.2 367.43,204.9 367.50,225.8 367.58,219.0 367.65,224.3 367.73,218.3 367.80,232.6 367.88,240.1 367.95,253.7 368.02,239.2 368.10,246.1 368.17,230.7 368.25,203.5 368.32,246.9 368.40,249.6 368.47,234.6 368.55,266.6 368.62,233.4 368.70,225.9 368.77,227.5 368.84,225.0 368.92,213.2 368.99,221.4 369.07,237.7 369.14,229.1 369.22,221.5 369.29,230.3 369.37,224.2 369.44,226.0 369.51,227.1 369.59,213.4 369.66,223.3 369.74,229.8 369.81,226.0 369.89,218.7 369.96,198.8 370.04,216.6 370.11,205.0 370.19,214.7 370.26,258.5 370.33,210.7 370.41,228.9 370.48,234.2 370.56,232.0 370.63,204.9 370.71,256.1 370.78,228.5 370.86,211.5 370.93,216.2 371.01,239.0 371.08,223.4 371.15,232.3 371.23,223.4 371.30,213.5 371.38,231.5 371.45,221.9 371.53,203.4 371.60,233.8 371.68,217.9 371.75,200.8 371.83,236.8 371.90,214.3 371.97,218.9 372.05,202.7 372.12,208.4 372.20,193.1 372.27,189.3 372.35,197.3 372.42,200.3 372.50,193.0 372.57,192.2 372.65,219.8 372.72,182.9 372.79,190.6 372.87,184.7 372.94,205.2 373.02,171.0 373.09,170.5 373.17,184.4 373.24,220.6 373.32,188.3 373.39,188.3 373.47,180.7 373.54,187.7 373.61,179.4 373.69,192.2 373.76,179.4 373.84,194.5 373.91,178.1 373.99,168.2 374.06,181.7 374.14,160.1 374.21,184.0 374.28,178.5 374.36,176.8 374.43,162.0 374.51,181.6 374.58,162.0 374.66,188.4 374.73,175.6 374.81,165.1 374.88,157.4 374.96,183.8 375.03,199.7 375.10,164.6 375.18,185.2 375.25,158.3 375.33,182.0 375.40,170.8 375.48,160.3 375.55,153.5 375.63,148.1 375.70,180.4 375.78,157.6 375.85,139.1 375.92,166.4 376.00,152.6 376.07,183.6 376.15,164.4 376.22,167.3 376.30,177.2 376.37,153.9 376.45,199.6 376.52,173.5 376.60,172.4 376.67,198.4 376.74,192.3 376.82,189.2 376.89,162.5 376.97,173.0 377.04,169.4 377.12,182.5 377.19,233.9 377.27,184.8 377.34,193.0 377.42,177.2 377.49,176.4 377.56,168.4 377.64,184.4 377.71,184.2 377.79,203.5 377.86,193.5 377.94,207.7 378.01,187.9 378.09,224.0 378.16,202.4 378.24,210.5 378.31,209.3 378.38,202.7 378.46,215.6 378.53,210.7 378.61,226.0 378.68,205.4 378.76,236.1 378.83,216.0 378.91,208.3 378.98,257.3 379.05,257.6 379.13,241.5 379.20,230.6 379.28,249.7 379.35,237.7 379.43,256.3 379.50,245.0 379.58,259.9 379.65,266.6 379.73,249.3 379.80,256.8 379.87,230.1 379.95,244.6 380.02,253.1 380.10,219.8 380.17,229.0 380.25,210.9 380.32,239.0 380.40,217.8 380.47,225.5 380.55,245.4 380.62,221.1 380.69,228.9 380.77,194.7 380.84,210.3 380.92,229.0 380.99,234.6 381.07,216.2 381.14,214.5 381.22,225.0 381.29,222.5 381.37,214.7 381.44,216.7 381.51,209.4 381.59,219.0 381.66,230.5 381.74,239.5 381.81,213.6 381.89,225.1 381.96,225.1 382.04,224.2 382.11,236.7 382.19,228.3 382.26,251.5 382.33,222.9 382.41,227.1 382.48,198.7 382.56,212.0 382.63,217.7 382.71,213.0 382.78,196.5 382.86,220.4 382.93,213.9 383.00,214.0 383.08,184.0 383.15,207.0 383.23,226.2 383.30,196.6 383.38,176.8 383.45,211.1 383.53,148.3 383.60,198.5 383.68,186.1 383.75,200.3 383.82,195.6 383.90,203.7 383.97,200.2 384.05,209.8 384.12,174.9 384.20,196.9 384.27,180.2 384.35,179.4 384.42,195.5 384.50,180.0 384.57,180.4 384.64,183.6 384.72,175.9 384.79,175.3 384.87,187.1 384.94,189.5 385.02,194.4 385.09,174.3 385.17,161.0 385.24,159.6 385.32,170.8 385.39,151.1 385.46,171.2 385.54,160.1 385.61,169.0 385.69,159.3 385.76,170.4 385.84,165.3 385.91,144.6 385.99,174.4 386.06,160.0 386.14,164.1 386.21,146.1 386.28,135.4 386.36,158.4 386.43,178.6 386.51,136.3 386.58,140.2 386.66,162.2 386.73,146.0 386.81,142.8 386.88,164.7 386.96,136.0 387.03,134.6 387.10,136.1 387.18,149.1 387.25,145.3 387.33,144.5 387.40,133.1 387.48,148.4 387.55,140.9 387.63,135.2 387.70,162.0 387.77,141.1 387.85,139.0 387.92,146.9 388.00,138.8 388.07,161.2 388.15,128.7 388.22,170.0 388.30,156.7 388.37,133.6 388.45,135.9 388.52,153.7 388.59,172.9 388.67,142.9 388.74,154.3 388.82,149.6 388.89,149.8 388.97,168.7 389.04,150.6 389.12,208.0 389.19,146.3 389.27,179.2 389.34,170.9 389.41,172.8 389.49,159.9 389.56,161.4 389.64,167.2 389.71,159.8 389.79,163.4 389.86,177.3 389.94,198.2 390.01,204.1 390.09,205.9 390.16,184.1 390.23,187.7 390.31,189.6 390.38,182.8 390.46,192.4 390.53,213.9 390.61,208.7 390.68,237.6 390.76,183.4 390.83,188.1 390.91,213.2 390.98,203.4 391.05,197.4 391.13,186.8 391.20,218.3 391.28,204.6 391.35,195.8 391.43,227.4 391.50,227.1 391.58,212.5 391.65,229.5 391.73,192.5 391.80,206.7 391.87,214.9 391.95,228.1 392.02,198.8 392.10,213.4 392.17,226.3 392.25,226.3 392.32,237.9 392.40,224.7 392.47,215.0 392.55,214.4 392.62,219.7 392.69,218.0 392.77,233.9 392.84,233.8 392.92,217.6 392.99,226.9 393.07,251.0 393.14,222.9 393.22,227.6 393.29,265.7 393.36,236.3 393.44,242.7 393.51,232.9 393.59,197.3 393.66,234.5 393.74,250.3 393.81,230.7 393.89,246.1 393.96,229.5 394.04,233.7 394.11,219.1 394.18,226.6 394.26,215.2 394.33,200.7 394.41,228.1 394.48,230.8 394.56,216.0 394.63,220.5 394.71,216.9 394.78,223.6 394.86,210.4 394.93,214.5 395.00,237.0 395.08,216.0 395.15,209.2 395.23,199.6 395.30,217.3 395.38,228.5 395.45,197.6 395.53,215.1 395.60,206.7 395.68,201.9 395.75,198.0 395.82,204.5 395.90,215.0 395.97,178.7 396.05,210.4 396.12,210.9 396.20,176.7 396.27,186.8 396.35,218.3 396.42,203.2 396.50,193.2 396.57,196.6 396.64,206.9 396.72,176.4 396.79,174.8 396.87,178.5 396.94,183.4 397.02,175.2 397.09,160.9 397.17,185.1 397.24,176.1 397.31,176.9 397.39,153.4 397.46,165.4 397.54,196.2 397.61,172.0 397.69,145.8 397.76,185.1 397.84,160.5 397.91,167.7 397.99,131.5 398.06,160.1 398.13,168.5 398.21,184.7 398.28,160.1 398.36,148.4 398.43,149.6 398.51,126.1 398.58,140.6 398.66,160.2 398.73,169.4 398.81,157.7 398.88,166.3 398.95,166.6 399.03,167.8 399.10,162.9 399.18,167.9 399.25,181.3 399.33,158.6 399.40,170.2 399.48,152.8 399.55,160.2 399.63,159.8 399.70,164.7 399.77,153.3 399.85,170.5 399.92,177.7 400.00,159.4 400.07,196.1 400.15,176.1 400.22,166.0 400.30,173.0 400.37,156.1 400.45,153.9 400.52,168.1 400.59,175.9 400.67,161.2 400.74,189.0 400.82,179.2 400.89,158.9 400.97,171.2 401.04,132.5 401.12,182.9 401.19,202.0 401.27,177.2 401.34,172.8 401.41,191.7 401.49,154.5 401.56,173.4 401.64,209.2 401.71,207.0 401.79,211.5 401.86,194.8 401.94,195.1 402.01,198.6 402.09,220.3 402.16,217.7 402.23,227.1 402.31,231.4 402.38,247.5 402.46,235.9 402.53,225.7 402.61,219.3 402.68,211.5 402.76,227.8 402.83,244.5 402.90,231.0 402.98,219.3 403.05,236.6 403.13,234.0 403.20,238.6 403.28,241.7 403.35,236.6 403.43,249.3 403.50,227.1 403.58,274.1 403.65,234.3 403.72,270.4 403.80,205.5 403.87,220.3 403.95,248.9 404.02,245.5 404.10,253.0 404.17,242.2 404.25,237.8 404.32,215.8 404.40,257.6 404.47,230.8 404.54,250.6 404.62,242.2 404.69,236.5 404.77,240.6 404.84,242.3 404.92,251.7 404.99,247.8 405.07,246.5 405.14,235.9 405.22,282.2 405.29,291.9 405.36,277.3 405.44,258.5 405.51,265.8 405.59,235.6 405.66,223.9 405.74,215.0 405.81,257.3 405.89,243.1 405.96,254.8 406.04,237.1 406.11,227.3 406.18,233.2 406.26,218.3 406.33,238.1 406.41,255.7 406.48,254.2 406.56,233.8 406.63,223.8 406.71,214.7 406.78,229.9 406.86,222.7 406.93,219.9 407.00,209.7 407.08,220.7 407.15,242.2 407.23,204.5 407.30,210.1 407.38,204.3 407.45,225.1 407.53,210.6 407.60,227.5 407.67,229.5 407.75,209.9 407.82,210.9 407.90,192.4 407.97,188.9 408.05,203.2 408.12,161.1 408.20,206.4 408.27,190.7 408.35,225.9 408.42,194.4 408.49,197.5 408.57,194.8 408.64,184.8 408.72,209.2 408.79,186.4 408.87,194.3 408.94,182.6 409.02,177.7 409.09,188.2 409.17,181.7 409.24,201.9 409.31,168.1 409.39,179.1 409.46,160.1 409.54,183.4 409.61,135.8 409.69,175.7 409.76,151.1 409.84,166.4 409.91,154.4 409.99,161.9 410.06,150.1 410.13,155.9 410.21,141.3 410.28,146.5 410.36,137.1 410.43,133.8 410.51,157.8 410.58,130.3 410.66,148.4 410.73,164.4 410.81,143.5 410.88,150.5 410.95,130.6 411.03,159.6 411.10,148.2 411.18,146.4 411.25,121.1 411.33,144.8 411.40,174.1 411.48,138.1 411.55,136.7 411.62,155.6 411.70,173.5 411.77,156.1 411.85,157.3 411.92,152.6 412.00,164.3 412.07,174.7 412.15,164.4 412.22,173.4 412.30,145.5 412.37,172.4 412.44,180.3 412.52,167.3 412.59,180.1 412.67,172.6 412.74,170.4 412.82,175.5 412.89,174.6 412.97,160.8 413.04,171.6 413.12,208.9 413.19,186.1 413.26,176.8 413.34,195.0 413.41,190.9 413.49,195.8 413.56,193.8 413.64,205.2 413.71,208.7 413.79,220.3 413.86,211.1 413.94,228.3 414.01,182.7 414.08,225.4 414.16,230.2 414.23,212.7 414.31,233.7 414.38,233.8 414.46,237.4 414.53,245.1 414.61,248.0 414.68,246.2 414.76,213.6 414.83,245.8 414.90,243.5 414.98,243.9 415.05,231.7 415.13,218.2 415.20,249.1 415.28,233.8 415.35,237.4 415.43,247.5 415.50,230.0 415.58,255.8 415.65,284.9 415.72,241.3 415.80,254.2 415.87,226.7 415.95,234.8 416.02,217.9 416.10,277.2 416.17,250.8 416.25,250.5 416.32,238.5 416.40,230.7 416.47,265.1 416.54,244.2 416.62,245.1 416.69,220.4 416.77,242.3 416.84,254.0 416.92,240.9 416.99,248.0 417.07,243.2 417.14,232.3 417.21,235.5 417.29,225.0 417.36,241.7 417.44,198.6 417.51,207.5 417.59,202.5 417.66,230.3 417.74,237.5 417.81,221.8 417.89,216.1 417.96,185.6 418.03,178.4 418.11,212.1 418.18,192.6 418.26,191.4 418.33,203.1 418.41,189.7 418.48,198.4 418.56,215.9 418.63,213.0 418.71,202.6 418.78,176.6 418.85,212.7 418.93,214.5 419.00,190.4 419.08,256.3 419.15,174.4 419.23,197.2 419.30,183.3 419.38,169.8 419.45,203.5 419.53,197.6 419.60,134.3 419.67,186.2 419.75,184.3 419.82,174.7 419.90,166.9 419.97,162.3 420.05,173.6 420.12,176.8 420.20,172.5 420.27,166.9 420.35,139.1 420.42,165.5 420.49,146.0 420.57,173.0 420.64,156.6 420.72,121.2 420.79,145.5 420.87,154.2 420.94,165.7 421.02,162.5 421.09,157.0 421.17,148.8 421.24,153.3 421.31,182.1 421.39,155.7 421.46,140.9 421.54,136.0 421.61,158.3 421.69,145.8 421.76,158.4 421.84,145.4 421.91,124.7 421.98,136.8 422.06,140.3 422.13,142.2 422.21,162.4 422.28,176.4 422.36,110.0 422.43,140.5 422.51,118.9 422.58,152.6 422.66,130.9 422.73,121.7 422.80,157.4 422.88,129.9 422.95,154.5 423.03,125.8 423.10,121.9 423.18,137.9 423.25,131.4 423.33,145.3 423.40,134.8 423.48,125.7 423.55,141.9 423.62,139.3 423.70,133.6 423.77,129.0 423.85,174.9 423.92,137.8 424.00,146.4 424.07,134.7 424.15,130.1 424.22,139.4 424.30,130.7 424.37,157.3 424.44,153.4 424.52,162.1 424.59,153.4 424.67,154.4 424.74,163.4 424.82,188.7 424.89,164.5 424.97,170.6 425.04,161.4 425.12,172.7 425.19,145.4 425.26,170.9 425.34,216.8 425.41,178.3 425.49,193.1 425.56,168.6 425.64,147.8 425.71,181.5 425.79,177.4 425.86,198.8 425.94,208.4 426.01,191.3 426.08,192.2 426.16,221.7 426.23,187.9 426.31,186.8 426.38,184.6 426.46,176.3 426.53,185.7 426.61,204.2 426.68,196.3 426.75,192.4 426.83,211.6 426.90,171.8 426.98,193.3 427.05,206.6 427.13,212.2 427.20,120.8 427.28,198.6 427.35,198.6 427.43,190.6 427.50,200.6 427.57,210.2 427.65,206.2 427.72,225.0 427.80,208.9 427.87,234.6 427.95,209.7 428.02,214.6 428.10,248.1 428.17,179.4 428.25,249.5 428.32,213.2 428.39,230.9 428.47,222.6 428.54,233.6 428.62,200.2 428.69,204.2 428.77,208.5 428.84,219.9 428.92,212.8 428.99,227.2 429.07,254.4 429.14,221.2 429.21,225.0 429.29,227.4 429.36,239.6 429.44,230.3 429.51,216.0 429.59,226.4 429.66,216.4 429.74,221.8 429.81,228.7 429.89,226.0 429.96,231.3 430.03,216.5 430.11,214.8 430.18,185.1 430.26,221.0 430.33,230.1 430.41,191.0 430.48,210.5 430.56,205.7 430.63,175.8 430.71,186.5 430.78,195.1 430.85,179.1 430.93,197.0 431.00,188.8 431.08,211.9 431.15,205.5 431.23,202.1 431.30,179.1 431.38,178.4 431.45,201.0 431.52,180.8 431.60,194.1 431.67,179.6 431.75,193.5 431.82,178.4 431.90,188.5 431.97,188.9 432.05,184.2 432.12,180.6 432.20,186.8 432.27,193.5 432.34,138.2 432.42,179.4 432.49,193.4 432.57,196.9 432.64,201.5 432.72,176.6 432.79,154.3 432.87,186.1 432.94,171.1 433.02,208.1 433.09,154.1 433.16,161.3 433.24,160.9 433.31,132.5 433.39,144.6 433.46,150.4 433.54,167.0 433.61,174.2 433.69,181.8 433.76,176.5 433.84,136.4 433.91,158.5 433.98,151.7 434.06,146.5 434.13,141.5 434.21,154.1 434.28,122.2 434.36,141.9 434.43,146.1 434.51,164.8 434.58,133.5 434.66,151.7 434.73,149.0 434.80,142.2 434.88,144.8 434.95,135.1 435.03,163.8 435.10,149.2 435.18,150.0 435.25,154.9 435.33,149.9 435.40,164.7 435.48,148.3 435.55,171.1 435.62,197.1 435.70,166.8 435.77,154.7 435.85,174.5 435.92,176.7 436.00,174.5 436.07,169.6 436.15,175.5 436.22,169.0 436.29,211.1 436.37,156.3 436.44,166.3 436.52,182.2 436.59,157.8 436.67,168.3 436.74,157.7 436.82,201.0 436.89,157.8 436.97,177.0 437.04,201.8 437.11,173.1 437.19,186.9 437.26,197.2 437.34,193.1 437.41,212.7 437.49,187.6 437.56,199.1 437.64,202.5 437.71,186.7 437.79,203.7 437.86,222.1 437.93,220.7 438.01,213.6 438.08,203.4 438.16,223.7 438.23,230.8 438.31,211.1 438.38,221.1 438.46,224.6 438.53,203.0 438.61,248.8 438.68,223.4 438.75,248.9 438.83,233.5 438.90,224.5 438.98,219.1 439.05,246.0 439.13,223.2 439.20,224.2 439.28,235.5 439.35,177.1 439.43,233.6 439.50,243.5 439.57,223.7 439.65,249.0 439.72,216.7 439.80,223.0 439.87,242.3 439.95,226.8 440.02,227.5 440.10,211.9 440.17,239.8 440.25,247.0 440.32,248.8 440.39,235.7 440.47,249.6 440.54,235.5 440.62,227.2 440.69,241.0 440.77,241.5 440.84,256.4 440.92,233.8 440.99,226.2 441.06,217.3 441.14,241.2 441.21,236.1 441.29,167.9 441.36,225.9 441.44,234.9 441.51,225.3 441.59,234.3 441.66,248.4 441.74,224.9 441.81,219.9 441.88,219.2 441.96,212.4 442.03,236.9 442.11,250.5 442.18,197.9 442.26,220.3 442.33,201.0 442.41,210.0 442.48,243.6 442.56,204.8 442.63,220.3 442.70,204.6 442.78,192.0 442.85,180.3 442.93,202.8 443.00,191.8 443.08,194.1 443.15,186.4 443.23,250.3 443.30,199.0 443.38,181.3 443.45,175.0 443.52,192.2 443.60,162.5 443.67,167.3 443.75,176.5 443.82,177.7 443.90,177.0 443.97,169.5 444.05,141.7 444.12,150.1 444.20,169.8 444.27,172.9 444.34,169.4 444.42,136.0 444.49,154.6 444.57,148.3 444.64,148.8 444.72,148.8 444.79,153.4 444.87,162.8 444.94,157.7 445.01,149.2 445.09,146.1 445.16,154.6 445.24,155.3 445.31,135.8 445.39,156.4 445.46,149.1 445.54,158.6 445.61,120.5 445.69,170.0 445.76,159.9 445.83,163.8 445.91,146.0 445.98,181.3 446.06,160.8 446.13,149.4 446.21,158.9 446.28,151.5 446.36,147.8 446.43,175.4 446.51,161.6 446.58,167.8 446.65,126.6 446.73,160.0 446.80,152.9 446.88,129.4 446.95,167.7 447.03,160.4 447.10,158.1 447.18,169.7 447.25,151.9 447.33,158.4 447.40,146.2 447.47,170.5 447.55,176.7 447.62,178.7 447.70,184.5 447.77,196.8 447.85,176.6 447.92,163.9 448.00,184.7 448.07,192.2 448.15,188.5 448.22,188.8 448.29,190.1 448.37,176.4 448.44,217.5 448.52,192.8 448.59,188.1 448.67,205.8 448.74,213.9 448.82,222.6 448.89,220.0 448.97,207.7 449.04,201.3 449.11,226.2 449.19,215.2 449.26,215.9 449.34,211.4 449.41,220.5 449.49,213.3 449.56,214.0 449.64,236.7 449.71,222.4 449.79,243.2 449.86,245.2 449.93,232.3 450.01,256.9 450.08,217.1 450.16,211.6 450.23,228.8 450.31,224.0 450.38,227.4 450.46,225.7 450.53,221.6 450.60,219.7 450.68,229.2 450.75,233.5 450.83,231.4 450.90,217.7 450.98,232.0 451.05,212.4 451.13,231.9 451.20,215.2 451.28,244.2 451.35,239.6 451.42,269.2 451.50,227.8 451.57,234.9 451.65,187.3 451.72,232.0 451.80,229.3 451.87,238.2 451.95,213.1 452.02,220.9 452.10,224.8 452.17,246.1 452.24,223.0 452.32,230.9 452.39,215.4 452.47,202.5 452.54,230.0 452.62,218.1 452.69,209.7 452.77,216.4 452.84,220.8 452.92,228.0 452.99,223.0 453.06,228.9 453.14,203.7 453.21,213.0 453.29,227.2 453.36,213.8 453.44,227.6 453.51,252.6 453.59,199.4 453.66,199.2 453.74,227.5 453.81,218.3 453.88,207.0 453.96,212.0 454.03,215.5 454.11,209.8 454.18,204.7 454.26,205.7 454.33,194.8 454.41,196.9 454.48,199.8 454.56,188.2 454.63,203.5 454.70,166.5 454.78,198.3 454.85,177.3 454.93,169.9 455.00,166.5 455.08,165.8 455.15,152.6 455.23,176.7 455.30,163.8 455.37,157.4 455.45,164.9 455.52,164.8 455.60,143.3 455.67,164.5 455.75,161.4 455.82,158.8 455.90,157.9 455.97,153.8 456.05,157.8 456.12,151.5 456.19,154.3 456.27,150.7 456.34,141.3 456.42,165.7 456.49,138.7 456.57,161.8 456.64,149.7 456.72,123.6 456.79,161.1 456.87,179.9 456.94,141.3 457.01,167.7 457.09,168.3 457.16,136.3 457.24,159.2 457.31,139.2 457.39,141.5 457.46,151.9 457.54,153.6 457.61,150.7 457.69,172.9 457.76,156.1 457.83,155.8 457.91,162.0 457.98,150.4 458.06,171.6 458.13,135.0 458.21,140.5 458.28,168.4 458.36,152.4 458.43,137.0 458.51,149.3 458.58,165.3 458.65,165.2 458.73,145.5 458.80,135.4 458.88,168.0 458.95,156.6 459.03,166.6 459.10,162.4 459.18,157.3 459.25,162.7 459.32,171.4 459.40,131.5 459.47,169.2 459.55,171.1 459.62,158.7 459.70,171.7 459.77,177.7 459.85,164.3 459.92,186.8 460.00,159.6 460.07,153.9 460.14,162.3 460.22,179.1 460.29,177.2 460.37,214.5 460.44,178.5 460.52,173.7 460.59,167.2 460.67,174.9 460.74,184.6 460.82,185.4 460.89,177.0 460.96,175.3 461.04,164.2 461.11,178.1 461.19,184.7 461.26,181.8 461.34,192.6 461.41,186.8 461.49,234.3 461.56,206.2 461.64,204.5 461.71,189.2 461.78,198.8 461.86,198.7 461.93,177.9 462.01,229.1 462.08,197.1 462.16,208.3 462.23,223.1 462.31,201.7 462.38,236.0 462.46,235.1 462.53,229.3 462.60,217.9 462.68,230.8 462.75,253.6 462.83,235.1 462.90,234.1 462.98,206.6 463.05,220.4 463.13,234.8 463.20,248.7 463.28,229.8 463.35,250.7 463.42,236.3 463.50,234.9 463.57,247.9 463.65,237.1 463.72,243.9 463.80,247.0 463.87,207.7 463.95,235.5 464.02,245.7 464.10,259.3 464.17,241.2 464.24,237.3 464.32,234.5 464.39,228.0 464.47,274.8 464.54,267.7 464.62,220.7 464.69,229.4 464.77,232.1 464.84,225.6 464.91,255.3 464.99,241.9 465.06,242.1 465.14,209.1 465.21,259.2 465.29,235.8 465.36,214.3 465.44,222.4 465.51,232.3 465.59,206.2 465.66,239.9 465.73,219.1 465.81,225.2 465.88,215.7 465.96,225.7 466.03,236.5 466.11,212.3 466.18,229.9 466.26,208.1 466.33,219.0 466.41,200.4 466.48,218.2 466.55,221.2 466.63,200.6 466.70,176.2 466.78,246.1 466.85,198.3 466.93,191.0 467.00,226.8 467.08,204.0 467.15,178.5 467.23,199.9 467.30,196.1 467.37,168.7 467.45,196.1 467.52,193.5 467.60,207.6 467.67,192.6 467.75,205.5 467.82,158.3 467.90,148.7 467.97,187.3 468.05,128.7 468.12,161.1 468.19,169.4 468.27,156.4 468.34,158.9 468.42,169.1 468.49,196.5 468.57,175.8 468.64,153.9 468.72,155.7 468.79,157.9 468.87,137.2 468.94,157.9 469.01,135.0 469.09,148.7 469.16,141.1 469.24,153.6 469.31,140.5 469.39,148.3 469.46,158.3 469.54,139.0 469.61,115.0 469.68,121.2 469.76,136.7 469.83,151.7 469.91,154.5 469.98,169.3 470.06,155.2 470.13,129.6 470.21,128.1 470.28,137.3 470.36,143.3 470.43,141.0 470.50,143.0 470.58,168.2 470.65,159.5 470.73,137.6 470.80,138.4 470.88,149.5 470.95,156.3 471.03,157.9 471.10,160.4 471.18,165.4 471.25,177.2" fill="none" stroke="#000" stroke-width="0.28" stroke-linejoin="miter" stroke-miterlimit="3"/>
<polyline points="471.25,177.2 471.32,153.5 471.40,162.6 471.47,160.8 471.55,140.5 471.62,153.8 471.70,169.1 471.77,156.1 471.85,180.3 471.92,153.6 472.00,163.9 472.07,170.8 472.14,164.3 472.22,156.6 472.29,180.0 472.37,198.6 472.44,156.1 472.52,181.4 472.59,167.3 472.67,193.4 472.74,183.8 472.82,197.1 472.89,184.9 472.96,196.6 473.04,202.6 473.11,179.5 473.19,194.2 473.26,221.6 473.34,205.3 473.41,221.2 473.49,228.7 473.56,209.4 473.64,208.8 473.71,203.7 473.78,221.7 473.86,245.3 473.93,210.8 474.01,195.2 474.08,220.0 474.16,198.0 474.23,199.8 474.31,209.9 474.38,201.4 474.45,213.1 474.53,209.1 474.60,215.9 474.68,199.4 474.75,189.4 474.83,212.3 474.90,191.8 474.98,229.2 475.05,216.0 475.13,218.1 475.20,188.6 475.27,215.5 475.35,193.1 475.42,234.5 475.50,212.0 475.57,208.7 475.65,217.3 475.72,244.8 475.80,218.9 475.87,213.8 475.95,195.9 476.02,222.2 476.09,247.2 476.17,234.3 476.24,250.5 476.32,240.6 476.39,219.3 476.47,237.1 476.54,230.5 476.62,222.6 476.69,238.3 476.77,166.6 476.84,226.6 476.91,223.0 476.99,233.6 477.06,222.9 477.14,227.6 477.21,241.9 477.29,235.2 477.36,213.0 477.44,215.5 477.51,242.4 477.59,235.5 477.66,213.6 477.73,210.5 477.81,201.2 477.88,221.0 477.96,199.5 478.03,208.9 478.11,215.8 478.18,205.4 478.26,192.0 478.33,196.1 478.41,191.6 478.48,208.4 478.55,202.9 478.63,224.2 478.70,203.7 478.78,200.7 478.85,200.2 478.93,185.6 479.00,187.5 479.08,182.2 479.15,187.7 479.22,175.4 479.30,183.0 479.37,162.3 479.45,175.7 479.52,170.9 479.60,178.4 479.67,188.6 479.75,204.1 479.82,147.9 479.90,159.0 479.97,155.4 480.04,164.7 480.12,165.7 480.19,125.9 480.27,180.7 480.34,154.6 480.42,152.4 480.49,162.6 480.57,162.2 480.64,161.4 480.72,148.0 480.79,148.0 480.86,131.9 480.94,153.1 481.01,134.1 481.09,121.3 481.16,127.0 481.24,149.5 481.31,169.7 481.39,117.7 481.46,125.5 481.54,102.6 481.61,123.3 481.68,143.3 481.76,138.5 481.83,152.5 481.91,138.2 481.98,152.3 482.06,149.6 482.13,132.8 482.21,143.7 482.28,164.0 482.36,132.9 482.43,139.5 482.50,159.2 482.58,155.1 482.65,150.8 482.73,155.0 482.80,151.6 482.88,146.4 482.95,160.1 483.03,131.8 483.10,171.9 483.18,169.0 483.25,135.9 483.32,132.2 483.40,159.8 483.47,163.4 483.55,174.5 483.62,150.5 483.70,162.5 483.77,175.1 483.85,157.7 483.92,152.1 483.99,160.8 484.07,120.7 484.14,156.9 484.22,161.0 484.29,171.7 484.37,165.7 484.44,158.8 484.52,154.4 484.59,162.2 484.67,172.6 484.74,167.4 484.81,163.3 484.89,180.1 484.96,194.1 485.04,161.0 485.11,175.3 485.19,188.2 485.26,182.0 485.34,189.0 485.41,225.3 485.49,193.4 485.56,222.3 485.63,190.3 485.71,195.5 485.78,183.0 485.86,198.8 485.93,190.7 486.01,203.7 486.08,205.8 486.16,218.4 486.23,192.2 486.31,202.1 486.38,211.2 486.45,202.5 486.53,209.7 486.60,213.1 486.68,199.2 486.75,190.5 486.83,207.1 486.90,220.0 486.98,210.5 487.05,182.9 487.13,212.5 487.20,177.1 487.27,206.1 487.35,195.3 487.42,205.3 487.50,222.6 487.57,214.5 487.65,182.3 487.72,208.9 487.80,202.2 487.87,213.9 487.95,213.1 488.02,209.6 488.09,209.7 488.17,191.7 488.24,219.0 488.32,224.6 488.39,254.4 488.47,238.6 488.54,242.9 488.62,217.6 488.69,246.6 488.76,209.3 488.84,215.2 488.91,230.9 488.99,236.7 489.06,222.2 489.14,221.1 489.21,195.2 489.29,227.2 489.36,225.8 489.44,216.9 489.51,218.4 489.58,228.0 489.66,233.0 489.73,231.4 489.81,219.8 489.88,214.1 489.96,189.1 490.03,184.4 490.11,190.9 490.18,205.7 490.26,188.5 490.33,211.1 490.40,221.1 490.48,182.9 490.55,221.2 490.63,213.4 490.70,211.2 490.78,191.0 490.85,213.7 490.93,197.2 491.00,209.8 491.08,218.0 491.15,200.0 491.22,197.5 491.30,212.9 491.37,217.0 491.45,205.3 491.52,183.5 491.60,182.6 491.67,188.4 491.75,183.9 491.82,193.4 491.90,175.9 491.97,191.9 492.04,198.8 492.12,190.2 492.19,176.1 492.27,178.4 492.34,165.9 492.42,195.9 492.49,177.7 492.57,169.2 492.64,183.3 492.72,165.3 492.79,174.1 492.86,192.8 492.94,141.7 493.01,180.8 493.09,151.8 493.16,166.4 493.24,170.7 493.31,168.3 493.39,164.9 493.46,164.4 493.53,149.9 493.61,172.7 493.68,135.3 493.76,138.3 493.83,130.3 493.91,166.2 493.98,194.1 494.06,148.9 494.13,144.2 494.21,136.0 494.28,144.6 494.35,139.6 494.43,135.5 494.50,116.7 494.58,136.8 494.65,150.6 494.73,135.5 494.80,125.9 494.88,149.9 494.95,142.4 495.03,130.9 495.10,149.1 495.17,135.8 495.25,143.2 495.32,149.1 495.40,145.5 495.47,160.7 495.55,160.0 495.62,138.1 495.70,155.2 495.77,157.0 495.85,190.5 495.92,165.4 495.99,140.7 496.07,158.7 496.14,163.0 496.22,178.3 496.29,181.2 496.37,170.9 496.44,161.4 496.52,179.2 496.59,166.7 496.67,187.3 496.74,172.4 496.81,200.3 496.89,189.5 496.96,206.9 497.04,190.2 497.11,194.6 497.19,225.6 497.26,217.2 497.34,222.1 497.41,233.7 497.49,231.1 497.56,234.3 497.63,210.7 497.71,215.7 497.78,240.2 497.86,244.3 497.93,238.5 498.01,249.4 498.08,251.5 498.16,237.7 498.23,243.6 498.30,251.1 498.38,255.0 498.45,219.5 498.53,253.9 498.60,251.8 498.68,261.4 498.75,250.6 498.83,251.0 498.90,255.7 498.98,243.9 499.05,247.9 499.12,243.9 499.20,232.8 499.27,232.5 499.35,248.9 499.42,223.3 499.50,238.4 499.57,253.3 499.65,228.3 499.72,238.6 499.80,230.4 499.87,249.2 499.94,219.6 500.02,212.3 500.09,228.9 500.17,200.2 500.24,225.3 500.32,213.8 500.39,233.6 500.47,234.9 500.54,186.4 500.62,192.3 500.69,193.7 500.76,242.4 500.84,201.0 500.91,197.4 500.99,200.0 501.06,196.3 501.14,209.2 501.21,199.3 501.29,209.5 501.36,202.7 501.44,189.7 501.51,201.9 501.58,197.8 501.66,195.8 501.73,189.7 501.81,178.4 501.88,185.7 501.96,183.3 502.03,204.2 502.11,191.5 502.18,169.1 502.25,197.2 502.33,196.7 502.40,198.6 502.48,158.0 502.55,197.2 502.63,195.7 502.70,173.3 502.78,173.8 502.85,175.0 502.93,174.0 503.00,179.9 503.07,185.3 503.15,188.1 503.22,187.9 503.30,194.1 503.37,171.8 503.45,181.3 503.52,176.8 503.60,169.8 503.67,176.4 503.75,190.7 503.82,183.0 503.89,197.4 503.97,193.9 504.04,169.6 504.12,183.7 504.19,183.7 504.27,180.3 504.34,156.5 504.42,169.1 504.49,142.2 504.57,164.1 504.64,166.9 504.71,154.1 504.79,152.5 504.86,155.5 504.94,168.9 505.01,165.5 505.09,167.9 505.16,155.9 505.24,150.7 505.31,133.5 505.39,133.4 505.46,141.3 505.53,137.5 505.61,125.5 505.68,139.1 505.76,139.5 505.83,153.7 505.91,146.6 505.98,147.2 506.06,140.9 506.13,152.1 506.21,152.0 506.28,178.7 506.35,147.6 506.43,158.6 506.50,152.4 506.58,166.1 506.65,186.1 506.73,161.6 506.80,155.9 506.88,186.5 506.95,195.2 507.02,179.6 507.10,181.4 507.17,200.8 507.25,144.7 507.32,174.0 507.40,201.6 507.47,211.2 507.55,187.7 507.62,170.4 507.70,185.3 507.77,182.7 507.84,208.1 507.92,192.8 507.99,216.0 508.07,175.9 508.14,192.8 508.22,246.2 508.29,221.7 508.37,194.8 508.44,199.0 508.52,207.7 508.59,194.0 508.66,178.2 508.74,198.0 508.81,242.8 508.89,205.9 508.96,220.5 509.04,215.8 509.11,203.9 509.19,212.7 509.26,222.6 509.34,211.7 509.41,222.1 509.48,207.4 509.56,217.3 509.63,210.8 509.71,219.3 509.78,208.1 509.86,219.0 509.93,218.0 510.01,225.0 510.08,217.1 510.16,239.9 510.23,188.4 510.30,228.0 510.38,219.4 510.45,226.6 510.53,227.3 510.60,217.5 510.68,228.8 510.75,228.6 510.83,240.4 510.90,245.5 510.98,239.6 511.05,205.7 511.12,243.5 511.20,269.6 511.27,227.3 511.35,213.5 511.42,250.8 511.50,249.7 511.57,230.7 511.65,228.7 511.72,249.7 511.79,254.4 511.87,244.7 511.94,224.8 512.02,234.0 512.09,217.1 512.17,235.7 512.24,233.8 512.32,225.4 512.39,233.6 512.47,229.0 512.54,241.8 512.61,243.7 512.69,223.8 512.76,230.9 512.84,235.4 512.91,217.3 512.99,216.9 513.06,221.8 513.14,228.4 513.21,206.9 513.29,186.2 513.36,223.3 513.43,230.0 513.51,219.4 513.58,219.7 513.66,222.2 513.73,220.0 513.81,194.9 513.88,193.6 513.96,185.1 514.03,192.5 514.11,205.7 514.18,186.1 514.25,205.0 514.33,200.9 514.40,209.6 514.48,168.1 514.55,182.0 514.63,198.4 514.70,199.1 514.78,190.7 514.85,187.8 514.93,179.3 515.00,187.0 515.07,182.3 515.15,203.4 515.22,191.3 515.30,204.0 515.37,142.3 515.45,163.3 515.52,169.7 515.60,163.5 515.67,131.2 515.75,153.0 515.82,190.6 515.89,175.2 515.97,196.7 516.04,177.2 516.12,180.9 516.19,165.1 516.27,155.6 516.34,173.8 516.42,165.2 516.49,157.7 516.57,164.0 516.64,163.9 516.71,187.4 516.79,163.9 516.86,141.3 516.94,155.1 517.01,190.9 517.09,160.9 517.16,154.3 517.24,168.6 517.31,148.9 517.38,166.1 517.46,160.3 517.53,157.5 517.61,129.8 517.68,163.5 517.76,118.4 517.83,147.8 517.91,162.2 517.98,154.6 518.06,207.2 518.13,153.9 518.20,157.9 518.28,173.2 518.35,128.8 518.43,164.3 518.50,163.8 518.58,175.2 518.65,179.5 518.73,173.8 518.80,179.5 518.88,151.6 518.95,152.2 519.02,177.3 519.10,182.3 519.17,168.2 519.25,187.5 519.32,162.1 519.40,162.2 519.47,169.6 519.55,164.0 519.62,153.0 519.70,145.7 519.77,172.7 519.84,158.8 519.92,171.0 519.99,181.7 520.07,155.1 520.14,163.1 520.22,170.8 520.29,166.2 520.37,176.6 520.44,188.2 520.52,155.7 520.59,167.2 520.66,175.9 520.74,159.4 520.81,166.4 520.89,187.8 520.96,177.5 521.04,193.4 521.11,179.6 521.19,194.7 521.26,161.1 521.34,195.4 521.41,186.3 521.48,188.0 521.56,198.6 521.63,175.7 521.71,198.3 521.78,208.4 521.86,200.6 521.93,211.5 522.01,190.3 522.08,199.1 522.15,187.4 522.23,226.7 522.30,209.6 522.38,223.9 522.45,215.7 522.53,190.9 522.60,214.9 522.68,223.8 522.75,198.9 522.83,212.5 522.90,203.8 522.97,249.0 523.05,224.0 523.12,233.7 523.20,240.1 523.27,229.1 523.35,245.1 523.42,258.5 523.50,243.3 523.57,236.1 523.65,211.1 523.72,242.1 523.79,247.5 523.87,255.4 523.94,238.0 524.02,236.8 524.09,232.2 524.17,262.2 524.24,251.4 524.32,261.3 524.39,232.3 524.47,260.5 524.54,245.0 524.61,220.1 524.69,227.5 524.76,225.8 524.84,225.4 524.91,255.5 524.99,208.5 525.06,254.6 525.14,188.8 525.21,227.0 525.29,250.9 525.36,217.9 525.43,204.0 525.51,229.8 525.58,203.1 525.66,230.8 525.73,268.9 525.81,255.4 525.88,209.0 525.96,228.2 526.03,217.4 526.11,234.4 526.18,230.6 526.25,205.3 526.33,222.2 526.40,221.3 526.48,230.5 526.55,211.8 526.63,196.4 526.70,217.5 526.78,213.1 526.85,224.2 526.92,177.7 527.00,220.9 527.07,207.2 527.15,167.0 527.22,207.5 527.30,219.0 527.37,209.6 527.45,200.7 527.52,172.9 527.60,189.1 527.67,191.9 527.74,168.5 527.82,168.1 527.89,190.1 527.97,161.0 528.04,165.0 528.12,167.1 528.19,198.1 528.27,164.7 528.34,133.9 528.42,165.1 528.49,108.5 528.56,156.0 528.64,166.9 528.71,139.8 528.79,147.4 528.86,139.4 528.94,150.9 529.01,131.5 529.09,153.0 529.16,144.0 529.24,160.0 529.31,154.1 529.38,141.5 529.46,151.5 529.53,148.7 529.61,145.5 529.68,102.8 529.76,134.3 529.83,135.0 529.91,122.5 529.98,143.2 530.06,158.6 530.13,166.1 530.20,151.7 530.28,157.7 530.35,189.3 530.43,113.0 530.50,191.1 530.58,146.3 530.65,144.4 530.73,154.6 530.80,116.8 530.88,152.9 530.95,163.3 531.02,133.6 531.10,174.0 531.17,174.3 531.25,180.5 531.32,166.6 531.40,159.0 531.47,156.6 531.55,180.1 531.62,158.3 531.69,113.8 531.77,173.0 531.84,166.9 531.92,157.8 531.99,152.7 532.07,176.5 532.14,181.3 532.22,183.2 532.29,159.0 532.37,162.9 532.44,201.8 532.51,203.2 532.59,194.0 532.66,199.0 532.74,177.5 532.81,179.6 532.89,162.2 532.96,170.4 533.04,188.2 533.11,177.1 533.19,204.1 533.26,212.0 533.33,196.3 533.41,186.9 533.48,219.9 533.56,190.9 533.63,184.4 533.71,211.0 533.78,204.2 533.86,211.0 533.93,208.0 534.01,200.5 534.08,229.9 534.15,200.4 534.23,195.3 534.30,204.9 534.38,241.5 534.45,241.7 534.53,212.0 534.60,229.3 534.68,239.4 534.75,242.8 534.83,243.7 534.90,235.7 534.97,247.3 535.05,247.6 535.12,228.7 535.20,250.8 535.27,213.0 535.35,266.7 535.42,210.2 535.50,258.9 535.57,236.3 535.64,233.4 535.72,245.6 535.79,237.3 535.87,248.5 535.94,269.5 536.02,244.2 536.09,276.7 536.17,255.4 536.24,268.9 536.32,254.6 536.39,239.2 536.46,241.4 536.54,230.3 536.61,235.7 536.69,235.0 536.76,264.3 536.84,210.8 536.91,236.1 536.99,224.7 537.06,238.2 537.14,234.4 537.21,230.5 537.28,210.4 537.36,194.6 537.43,219.5 537.51,201.3 537.58,229.2 537.66,216.6 537.73,227.3 537.81,204.3 537.88,218.4 537.96,205.3 538.03,194.6 538.10,239.7 538.18,185.6 538.25,206.6 538.33,212.5 538.40,230.1 538.48,208.0 538.55,230.4 538.63,198.5 538.70,199.2 538.78,171.8 538.85,195.6 538.92,164.8 539.00,160.0 539.07,158.1 539.15,186.9 539.22,169.4 539.30,211.0 539.37,188.4 539.45,176.2 539.52,171.3 539.60,196.9 539.67,172.9 539.74,157.6 539.82,170.6 539.89,167.2 539.97,173.4 540.04,144.0 540.12,137.8 540.19,156.1 540.27,158.8 540.34,135.4 540.42,148.8 540.49,161.6 540.56,182.4 540.64,163.7 540.71,124.0 540.79,160.6 540.86,135.5 540.94,143.9 541.01,145.0 541.09,124.3 541.16,142.4 541.23,109.8 541.31,150.3 541.38,152.5 541.46,146.1 541.53,131.9 541.61,145.4 541.68,162.0 541.76,132.2 541.83,142.5 541.91,143.0 541.98,148.0 542.05,192.3 542.13,122.5 542.20,149.4 542.28,132.6 542.35,128.3 542.43,121.6 542.50,146.0 542.58,150.0 542.65,145.0 542.73,142.4 542.80,148.4 542.87,163.3 542.95,154.3 543.02,157.5 543.10,148.9 543.17,164.6 543.25,152.6 543.32,169.8 543.40,154.8 543.47,177.0 543.55,193.2 543.62,194.9 543.69,189.6 543.77,182.4 543.84,176.3 543.92,196.4 543.99,210.1 544.07,207.9 544.14,188.5 544.22,206.5 544.29,217.2 544.37,204.7 544.44,246.8 544.51,218.3 544.59,223.0 544.66,228.1 544.74,242.0 544.81,207.7 544.89,211.0 544.96,250.6 545.04,234.4 545.11,229.5 545.19,210.9 545.26,249.9 545.33,263.0 545.41,242.5 545.48,197.7 545.56,242.1 545.63,240.7 545.71,221.9 545.78,264.1 545.86,250.8 545.93,232.7 546.00,234.1 546.08,261.0 546.15,236.9 546.23,242.6 546.30,240.2 546.38,271.6 546.45,252.3 546.53,252.4 546.60,240.1 546.68,243.0 546.75,218.3 546.82,230.9 546.90,257.8 546.97,232.2 547.05,204.4 547.12,232.5 547.20,221.7 547.27,235.1 547.35,225.1 547.42,254.4 547.50,222.6 547.57,249.0 547.64,214.7 547.72,248.9 547.79,255.5 547.87,221.2 547.94,230.5 548.02,223.9 548.09,218.6 548.17,222.8 548.24,232.1 548.32,216.8 548.39,213.6 548.46,205.3 548.54,190.0 548.61,222.7 548.69,210.5 548.76,198.0 548.84,214.8 548.91,222.8 548.99,219.2 549.06,181.0 549.14,207.1 549.21,194.6 549.28,210.0 549.36,193.5 549.43,206.0 549.51,206.4 549.58,191.5 549.66,191.5 549.73,171.7 549.81,208.7 549.88,179.9 549.96,148.0 550.03,151.9 550.10,189.7 550.18,188.0 550.25,184.2 550.33,172.8 550.40,172.8 550.48,169.6 550.55,165.3 550.63,185.2 550.70,184.9 550.77,185.1 550.85,185.6 550.92,169.0 551.00,159.8 551.07,134.0 551.15,158.1 551.22,163.4 551.30,144.5 551.37,170.2 551.45,155.1 551.52,145.5 551.59,138.1 551.67,144.8 551.74,159.8 551.82,177.9 551.89,149.6 551.97,153.1 552.04,134.8 552.12,143.2 552.19,132.5 552.27,158.2 552.34,124.1 552.41,145.8 552.49,153.8 552.56,150.7 552.64,140.8 552.71,118.4 552.79,116.4 552.86,147.5 552.94,131.0 553.01,134.8 553.09,154.1 553.16,147.7 553.23,182.3 553.31,148.5 553.38,198.7 553.46,150.4 553.53,104.0 553.61,154.1 553.68,156.6 553.76,133.6 553.83,158.0 553.91,148.9 553.98,144.0 554.05,134.7 554.13,147.7 554.20,164.4 554.28,172.1 554.35,176.5 554.43,170.2 554.50,160.1 554.58,162.5 554.65,147.2 554.73,162.7 554.80,121.2 554.87,148.9 554.95,168.2 555.02,151.6 555.10,199.2 555.17,145.9 555.25,158.8 555.32,159.8 555.40,187.1 555.47,110.2 555.54,171.5 555.62,171.4 555.69,156.8 555.77,176.8 555.84,184.5 555.92,166.7 555.99,189.0 556.07,160.6 556.14,175.1 556.22,164.8 556.29,195.0 556.36,164.5 556.44,177.1 556.51,156.2 556.59,196.3 556.66,140.4 556.74,174.1 556.81,173.9 556.89,194.1 556.96,179.0 557.04,178.9 557.11,207.6 557.18,205.1 557.26,201.9 557.33,175.4 557.41,193.8 557.48,185.8 557.56,195.9 557.63,200.1 557.71,200.8 557.78,211.0 557.86,192.4 557.93,207.8 558.00,207.0 558.08,231.4 558.15,211.7 558.23,232.3 558.30,229.7 558.38,196.2 558.45,245.2 558.53,226.0 558.60,214.4 558.68,208.5 558.75,230.4 558.82,220.4 558.90,221.5 558.97,240.1 559.05,274.8 559.12,251.9 559.20,220.9 559.27,228.3 559.35,247.7 559.42,239.9 559.50,238.0 559.57,238.4 559.64,235.1 559.72,207.4 559.79,245.9 559.87,234.6 559.94,246.5 560.02,244.9 560.09,279.0 560.17,241.5 560.24,247.9 560.31,226.6 560.39,230.7 560.46,243.7 560.54,206.8 560.61,256.3 560.69,224.2 560.76,178.6 560.84,235.1 560.91,208.0 560.99,205.7 561.06,218.3 561.13,245.1 561.21,202.6 561.28,218.5 561.36,225.8 561.43,189.3 561.51,226.6 561.58,203.3 561.66,228.7 561.73,209.0 561.81,229.0 561.88,219.8 561.95,225.7 562.03,222.3 562.10,209.9 562.18,215.0 562.25,207.5 562.33,192.1 562.40,208.3 562.48,228.8 562.55,207.0 562.63,199.6 562.70,186.5 562.77,184.3 562.85,173.9 562.92,196.0 563.00,182.6 563.07,206.9 563.15,169.8 563.22,178.2 563.30,174.7 563.37,183.4 563.45,175.1 563.52,181.6 563.59,163.1 563.67,184.4 563.74,152.4 563.82,155.0 563.89,133.5 563.97,157.2 564.04,155.3 564.12,149.3 564.19,149.0 564.27,148.7 564.34,159.4 564.41,157.6 564.49,149.2 564.56,144.4 564.64,154.8 564.71,153.8 564.79,142.1 564.86,128.8 564.94,140.6 565.01,129.7 565.08,126.2 565.16,129.2 565.23,144.9 565.31,145.4 565.38,164.8 565.46,106.1 565.53,137.4 565.61,158.7 565.68,129.1 565.76,129.6 565.83,154.0 565.90,138.7 565.98,169.7 566.05,166.1 566.13,158.5 566.20,154.6 566.28,158.1 566.35,167.6 566.43,132.3 566.50,151.6 566.58,155.2 566.65,144.1 566.72,157.7 566.80,165.6 566.87,168.0 566.95,182.2 567.02,142.7 567.10,173.9 567.17,200.0 567.25,173.4 567.32,184.1 567.40,138.9 567.47,160.5 567.54,148.2 567.62,148.9 567.69,161.8 567.77,163.4 567.84,182.0 567.92,176.9 567.99,185.1 568.07,179.0 568.14,191.5 568.22,168.9 568.29,177.8 568.36,191.4 568.44,229.8 568.51,185.6 568.59,185.0 568.66,199.0 568.74,215.9 568.81,191.5 568.89,189.0 568.96,246.6 569.04,197.1 569.11,228.2 569.18,204.4 569.26,183.4 569.33,204.8 569.41,195.3 569.48,210.3 569.56,206.3 569.63,176.3 569.71,176.5 569.78,210.6 569.85,211.7 569.93,207.0 570.00,158.4 570.08,203.5 570.15,194.7 570.23,214.4 570.30,226.8 570.38,181.7 570.45,214.0 570.53,223.3 570.60,223.0 570.67,223.7 570.75,223.7 570.82,236.6 570.90,202.3 570.97,253.5 571.05,206.1 571.12,223.1 571.20,214.3 571.27,216.6 571.35,203.5 571.42,207.9 571.49,213.4 571.57,225.8 571.64,243.8 571.72,226.5 571.79,223.5 571.87,226.5 571.94,229.2 572.02,190.8 572.09,204.7 572.17,235.1 572.24,221.7 572.31,236.1 572.39,201.3 572.46,178.7 572.54,213.4 572.61,191.0 572.69,200.7 572.76,180.6 572.84,176.0 572.91,187.7 572.99,173.7 573.06,187.9 573.13,190.7 573.21,198.9 573.28,174.8 573.36,181.9 573.43,183.5 573.51,177.9 573.58,179.6 573.66,187.4 573.73,184.8 573.81,157.3 573.88,174.1 573.95,152.7 574.03,196.0 574.10,187.2 574.18,168.1 574.25,159.5 574.33,177.5 574.40,160.7 574.48,156.4 574.55,154.1 574.62,168.7 574.70,167.4 574.77,202.9 574.85,165.1 574.92,161.0 575.00,145.7 575.07,179.1 575.15,180.8 575.22,173.8 575.30,148.5 575.37,191.5 575.44,172.2 575.52,131.3 575.59,142.5 575.67,186.4 575.74,157.4 575.82,137.8 575.89,149.9 575.97,160.1 576.04,167.9 576.12,139.7 576.19,159.0 576.26,149.0 576.34,154.8 576.41,166.3 576.49,142.2 576.56,167.2 576.64,155.3 576.71,168.7 576.79,165.3 576.86,162.8 576.94,167.3 577.01,152.6 577.08,140.1 577.16,132.0 577.23,122.7 577.31,155.6 577.38,107.4 577.46,145.9 577.53,127.4 577.61,165.7 577.68,129.9 577.76,155.9 577.83,133.0 577.90,157.9 577.98,135.8 578.05,151.2 578.13,189.6 578.20,160.7 578.28,152.0 578.35,149.4 578.43,200.2 578.50,166.8 578.58,161.8 578.65,156.2 578.72,151.8 578.80,173.9 578.87,190.6 578.95,151.5 579.02,163.9 579.10,149.8 579.17,169.4 579.25,156.0 579.32,185.6 579.39,164.0 579.47,167.9 579.54,165.0 579.62,193.2 579.69,175.8 579.77,187.1 579.84,180.3 579.92,172.3 579.99,116.1 580.07,183.8 580.14,170.4 580.21,186.8 580.29,175.8 580.36,186.3 580.44,180.8 580.51,191.4 580.59,167.0 580.66,181.7 580.74,222.6 580.81,195.7 580.89,202.8 580.96,233.4 581.03,225.6 581.11,218.2 581.18,218.9 581.26,208.3 581.33,235.8 581.41,205.0 581.48,199.2 581.56,210.3 581.63,224.3 581.71,221.9 581.78,234.1 581.85,211.0 581.93,216.2 582.00,203.5 582.08,235.2 582.15,213.2 582.23,240.3 582.30,236.1 582.38,248.1 582.45,228.5 582.53,236.2 582.60,227.5 582.67,216.1 582.75,253.1 582.82,229.0 582.90,213.0 582.97,232.7 583.05,238.1 583.12,225.7 583.20,223.1 583.27,219.0 583.35,218.0 583.42,237.1 583.49,218.7 583.57,213.1 583.64,239.5 583.72,225.1 583.79,244.0 583.87,228.9 583.94,209.4 584.02,228.2 584.09,244.7 584.16,228.1 584.24,227.5 584.31,217.7 584.39,248.9 584.46,242.1 584.54,230.1 584.61,239.5 584.69,200.7 584.76,246.7 584.84,240.3 584.91,238.9 584.98,232.3 585.06,205.4 585.13,205.7 585.21,199.4 585.28,201.4 585.36,233.1 585.43,201.3 585.51,227.0 585.58,212.9 585.66,205.5 585.73,206.3 585.80,187.4 585.88,207.8 585.95,174.5 586.03,188.3 586.10,180.2 586.18,185.0 586.25,182.6 586.33,194.3 586.40,167.5 586.48,205.4 586.55,180.8 586.62,190.1 586.70,191.9 586.77,183.8 586.85,196.3 586.92,174.4 587.00,174.3 587.07,181.1 587.15,172.9 587.22,194.8 587.30,204.0 587.37,187.8 587.44,183.1 587.52,148.0 587.59,184.9 587.67,166.8 587.74,169.4 587.82,153.6 587.89,179.7 587.97,173.4 588.04,185.0 588.12,194.5 588.19,197.2 588.26,195.4 588.34,167.9 588.41,183.5 588.49,189.9 588.56,188.3 588.64,196.3 588.71,189.8 588.79,190.1 588.86,181.2 588.93,177.7 589.01,210.2 589.08,183.5 589.16,170.5 589.23,200.5 589.31,189.8 589.38,183.5 589.46,160.5 589.53,176.4 589.61,188.2 589.68,176.6 589.75,169.3 589.83,177.3 589.90,158.3 589.98,176.6 590.05,205.2 590.13,192.3 590.20,185.1 590.28,185.0 590.35,174.4 590.43,174.5 590.50,160.4" fill="none" stroke="#000" stroke-width="0.27" stroke-linejoin="miter" stroke-miterlimit="3"/>
<polyline points="714.3,362.5 715.0,380.0 715.6,390.3 717.4,383.6 719.4,375.6 720.5,377.6 721.4,375.3 723.4,389.0 725.0,378.5 726.1,378.5 728.1,387.0 729.4,387.9 730.4,382.6 731.7,387.0 733.5,385.2 736.1,383.9 737.8,391.9 738.6,386.3 740.2,389.7 742.2,389.0 743.5,390.6 745.9,386.3 748.2,388.3 750.9,389.0 752.6,381.6 754.2,381.0 755.6,370.2 756.6,343.4 757.0,330.0" fill="none" stroke-linejoin="round" stroke="#1a1a1a" stroke-width="0.8"/>
<polyline points="757.0,330.0 757.5,290.0 758.5,220.0 758.9,114.0 759.0,107.8 759.1,114.0 759.5,220.0 760.2,290.0 760.5,330.0" fill="none" stroke-linejoin="round" stroke="#222" stroke-width="0.6"/>
<polyline points="760.5,330.0 761.0,354.1 762.3,357.5 763.6,357.5 765.2,370.2 767.7,378.3 769.0,370.2 771.0,381.0 773.0,376.3 775.0,382.3 776.6,386.3 778.7,379.6 780.8,385.0 783.1,383.6 784.8,379.6 786.2,383.0 790.5,383.6 792.1,384.3 793.4,389.7 794.7,381.0 796.9,390.3 798.5,383.0 802.5,385.6 805.2,376.3 807.2,383.0 809.9,381.6 813.2,384.3 816.6,381.0 818.6,383.6 821.3,383.0 823.7,380.7 825.6,388.3 827.7,388.3 830.4,384.7 832.4,390.3 834.1,389.0 835.7,381.0 837.7,385.0 839.1,383.6 842.4,391.7 843.8,381.0 845.1,386.3 847.1,381.6 849.1,380.3 850.2,388.3 852.5,389.0 855.8,384.3 857.9,385.6 860.5,383.0 861.9,388.3 864.2,381.6 865.2,387.0 867.9,389.0 872.6,383.0 874.6,389.7 876.6,387.7 881.0,384.3 882.4,387.0 884.7,391.0 888.0,384.3 889.4,386.3 891.4,383.0 893.4,381.6 895.0,383.6 896.1,391.0 897.4,384.3 900.1,383.6 902.8,384.3 905.5,391.0 907.1,383.6 909.2,391.7 910.8,389.0 913.5,388.3 917.2,383.0 919.5,389.0 922.2,384.3 924.2,388.3 926.2,384.3 927.6,386.3 929.3,381.6 930.3,385.0 932.3,383.6 934.3,381.0 936.3,384.3 938.3,379.3 940.0,377.0" fill="none" stroke-linejoin="round" stroke="#1a1a1a" stroke-width="0.8"/>
<rect x="113.5" y="24.5" width="477" height="367" fill="none" stroke="#000" stroke-width="3"/>
<rect x="713.5" y="24.5" width="227" height="369" fill="none" stroke="#000" stroke-width="3"/>
<path d="M113.5 393v6M143.5 393v3M143.5 26v3M173.5 393v6M173.5 26v6M202.5 393v3M202.5 26v3M232.5 393v6M232.5 26v6M262.5 393v3M262.5 26v3M292.5 393v6M292.5 26v6M322.5 393v3M322.5 26v3M352.5 393v6M352.5 26v6M381.5 393v3M381.5 26v3M411.5 393v6M411.5 26v6M441.5 393v3M441.5 26v3M471.5 393v6M471.5 26v6M501.5 393v3M501.5 26v3M530.5 393v6M530.5 26v6M560.5 393v3M560.5 26v3M590.5 393v6M112 24.5h-5.5M112 55.5h-2.5M589 55.5h-2.5M112 86.5h-5.5M589 86.5h-5.5M112 116.5h-2.5M589 116.5h-2.5M112 147.5h-5.5M589 147.5h-5.5M112 177.5h-2.5M589 177.5h-2.5M112 208.5h-5.5M589 208.5h-5.5M112 239.5h-2.5M589 239.5h-2.5M112 269.5h-5.5M589 269.5h-5.5M112 300.5h-2.5M589 300.5h-2.5M112 330.5h-5.5M589 330.5h-5.5M112 361.5h-2.5M589 361.5h-2.5M112 391.5h-5.5" stroke="#000" stroke-width="1.1" fill="none"/>
<path d="M713.5 395v9.5M736.5 395v5M736.5 26v5M758.5 395v9.5M758.5 26v9.5M781.5 395v5M781.5 26v5M804.5 395v9.5M804.5 26v9.5M826.5 395v5M826.5 26v5M849.5 395v9.5M849.5 26v9.5M872.5 395v5M872.5 26v5M894.5 395v9.5M894.5 26v9.5M917.5 395v5M917.5 26v5M940.5 395v9.5M712 24.5h-9.5M712 55.5h-4.5M939 55.5h-4.5M712 86.5h-9.5M939 86.5h-9.5M712 117.5h-4.5M939 117.5h-4.5M712 147.5h-9.5M939 147.5h-9.5M712 178.5h-4.5M939 178.5h-4.5M712 209.5h-9.5M939 209.5h-9.5M712 240.5h-4.5M939 240.5h-4.5M712 270.5h-9.5M939 270.5h-9.5M712 301.5h-4.5M939 301.5h-4.5M712 332.5h-9.5M939 332.5h-9.5M712 363.5h-4.5M939 363.5h-4.5M712 393.5h-9.5" stroke="#000" stroke-width="1.5" fill="none"/>
<text transform="translate(101.89 33.9) scale(0.966 1)" font-size="34.8" text-anchor="end" >2.0</text>
<text transform="translate(99.59 93.9) scale(0.966 1)" font-size="34.8" text-anchor="end" >1.5</text>
<text transform="translate(101.99 153.9) scale(0.966 1)" font-size="34.8" text-anchor="end" >1.0</text>
<text transform="translate(98.89 213.9) scale(0.966 1)" font-size="34.8" text-anchor="end" >0.5</text>
<text transform="translate(101.39 273.9) scale(0.966 1)" font-size="34.8" text-anchor="end" >0.0</text>
<text transform="translate(38.8 336.1) scale(1.095 1)" font-size="34.8">−</text>
<text transform="translate(98.89 333.9) scale(0.966 1)" font-size="34.8" text-anchor="end" >0.5</text>
<text transform="translate(38.8 396.1) scale(1.095 1)" font-size="34.8">−</text>
<text transform="translate(101.69 393.9) scale(0.966 1)" font-size="34.8" text-anchor="end" >1.0</text>
<text transform="translate(113.5 430.8) scale(0.966 1)" font-size="34.8" text-anchor="middle" >0</text>
<text transform="translate(173.12 430.8) scale(0.966 1)" font-size="34.8" text-anchor="middle" >5</text>
<text transform="translate(232.75 430.8) scale(0.966 1)" font-size="34.8" text-anchor="middle" >10</text>
<text transform="translate(292.38 430.8) scale(0.966 1)" font-size="34.8" text-anchor="middle" >15</text>
<text transform="translate(352 430.8) scale(0.966 1)" font-size="34.8" text-anchor="middle" >20</text>
<text transform="translate(411.62 430.8) scale(0.966 1)" font-size="34.8" text-anchor="middle" >25</text>
<text transform="translate(471.25 430.8) scale(0.966 1)" font-size="34.8" text-anchor="middle" >30</text>
<text transform="translate(530.88 430.8) scale(0.966 1)" font-size="34.8" text-anchor="middle" >35</text>
<text transform="translate(590.5 430.8) scale(0.966 1)" font-size="34.8" text-anchor="middle" >40</text>
<text transform="translate(640.32 33.2) scale(0.966 1)" font-size="34.8" text-anchor="start" >0.30</text>
<text transform="translate(637.62 94.9) scale(0.966 1)" font-size="34.8" text-anchor="start" >0.25</text>
<text transform="translate(640.32 156.6) scale(0.966 1)" font-size="34.8" text-anchor="start" >0.20</text>
<text transform="translate(637.62 218.3) scale(0.966 1)" font-size="34.8" text-anchor="start" >0.15</text>
<text transform="translate(637.62 280) scale(0.966 1)" font-size="34.8" text-anchor="start" >0.10</text>
<text transform="translate(637.62 341.7) scale(0.966 1)" font-size="34.8" text-anchor="start" >0.05</text>
<text transform="translate(640.32 403.4) scale(0.966 1)" font-size="34.8" text-anchor="start" >0.00</text>
<text transform="translate(712.5 430.4) scale(0.966 1)" font-size="34.8" text-anchor="middle" >0</text>
<text transform="translate(757.8 430.4) scale(0.966 1)" font-size="34.8" text-anchor="middle" >1</text>
<text transform="translate(803.1 430.4) scale(0.966 1)" font-size="34.8" text-anchor="middle" >2</text>
<text transform="translate(848.4 430.4) scale(0.966 1)" font-size="34.8" text-anchor="middle" >3</text>
<text transform="translate(893.7 430.4) scale(0.966 1)" font-size="34.8" text-anchor="middle" >4</text>
<text transform="translate(939 430.4) scale(0.966 1)" font-size="34.8" text-anchor="middle" >5</text>
<text transform="translate(765.04 119.6) scale(0.966 1)" font-size="34.8" text-anchor="start" >1</text>
<text transform="translate(788.43 119.6) scale(0.966 1)" font-size="34.8" text-anchor="start" >Hz</text>
<text x="310.3" y="466.6" font-size="33" text-anchor="start">时间</text>
<text transform="translate(376.9 466.9) scale(0.966 1)" font-size="34.8" text-anchor="start" >/s</text>
<text x="764.5" y="466.1" font-size="33" text-anchor="start">频率</text>
<text transform="translate(830.5 465.8) scale(0.966 1)" font-size="34.8" text-anchor="start" >/Hz</text>
<text transform="translate(48.2 247.3) rotate(-90)" font-size="34" text-anchor="start">升力</text>
<text transform="translate(47.3 179.2) rotate(-90) scale(0.97 1)" font-size="35.5">/N</text>
<text transform="translate(628.4 222.9) rotate(-90)" font-size="33.5" text-anchor="start">幅值</text>
</svg>
</body></html>
